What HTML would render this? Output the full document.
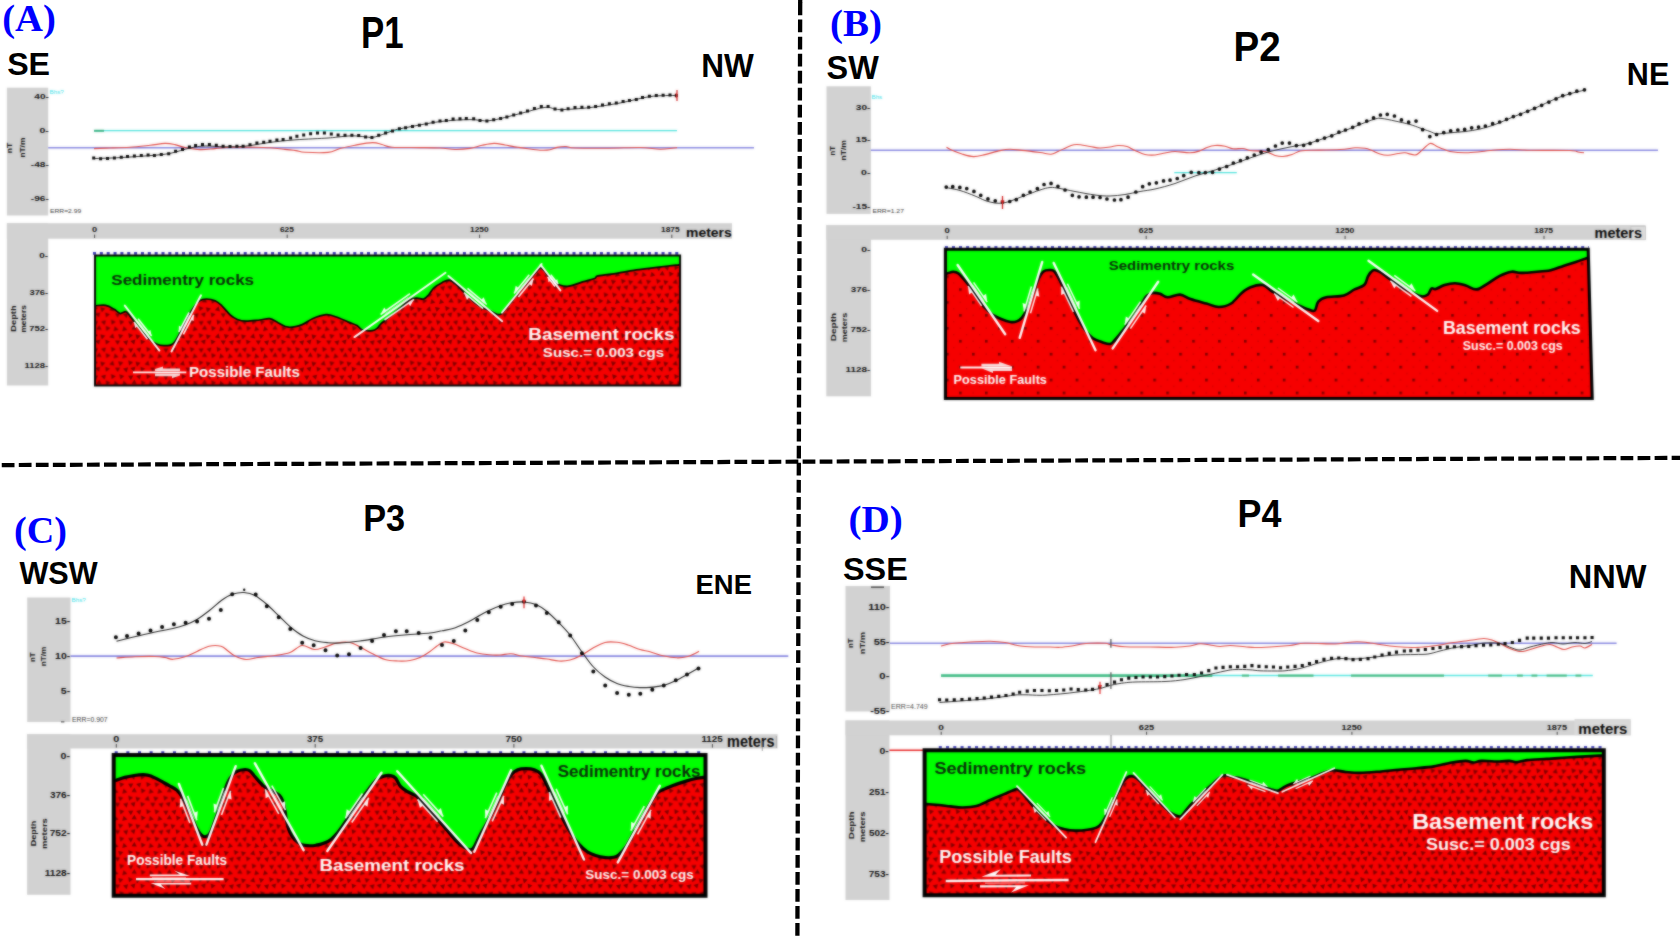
<!DOCTYPE html>
<html lang="en"><head><meta charset="utf-8"><title>Magnetic profiles P1-P4</title>
<style>
html,body{margin:0;padding:0;background:#fff;}
body{width:1680px;height:936px;overflow:hidden;position:relative;font-family:"Liberation Sans",sans-serif;}
svg text{white-space:pre;}
</style></head><body>
<svg width="1680" height="936" viewBox="0 0 1680 936" style="position:absolute;left:0;top:0;display:block">
<defs><pattern id="tri" width="35.20" height="27.20" patternUnits="userSpaceOnUse">
<rect width="35.20" height="27.20" fill="#f60000"/>
<g fill="#7c0000">
<polygon points="0.19,-0.54 4.93,1.61 0.71,4.64"/>
<polygon points="0.19,26.66 4.93,28.81 0.71,31.84"/>
<polygon points="35.39,-0.54 40.13,1.61 35.91,4.64"/>
<polygon points="35.39,26.66 40.13,28.81 35.91,31.84"/>
<polygon points="8.09,4.91 9.14,-0.18 13.03,3.28"/>
<polygon points="8.09,32.11 9.14,27.02 13.03,30.48"/>
<polygon points="21.77,3.32 16.79,4.79 18.00,-0.26"/>
<polygon points="21.77,30.52 16.79,31.99 18.00,26.94"/>
<polygon points="31.15,3.36 25.96,3.12 28.77,-1.26"/>
<polygon points="31.15,30.56 25.96,30.32 28.77,25.94"/>
<polygon points="8.74,12.16 3.71,10.85 7.36,7.15"/>
<polygon points="17.72,8.69 14.30,12.60 12.62,7.68"/>
<polygon points="27.57,8.75 23.50,11.99 22.73,6.85"/>
<polygon points="31.28,13.02 29.87,8.02 34.91,9.30"/>
<polygon points="0.40,18.24 -0.41,13.10 4.44,14.97"/>
<polygon points="35.60,18.24 34.79,13.10 39.64,14.97"/>
<polygon points="9.41,14.09 14.60,14.03 12.05,18.56"/>
<polygon points="17.50,15.06 22.56,13.91 21.03,18.87"/>
<polygon points="28.48,18.21 24.75,14.59 29.75,13.17"/>
<polygon points="6.09,25.61 5.47,20.46 10.25,22.49"/>
<polygon points="14.90,25.76 13.81,20.68 18.76,22.28"/>
<polygon points="25.28,26.40 22.51,22.00 27.71,21.80"/>
<polygon points="0.32,20.93 -1.03,25.95 -4.70,22.27"/>
<polygon points="35.52,20.93 34.17,25.95 30.50,22.27"/>
</g></pattern>

<pattern id="dots" width="25.9" height="25.84" patternUnits="userSpaceOnUse" patternTransform="translate(1166.3,314.1)">
  <rect width="25.9" height="25.84" fill="#f60000"/>
  <g fill="#7a0000">
  <rect x="0" y="0" width="2.6" height="2.6"/>
  <rect x="12.95" y="12.92" width="2.6" height="2.6"/>
  </g>
  <g fill="#d00000">
  <rect x="13.4" y="0.6" width="1.4" height="1.4"/>
  <rect x="0.5" y="13.4" width="1.4" height="1.4"/>
  <rect x="6.9" y="7" width="1.3" height="1.3"/>
  <rect x="19.9" y="19.9" width="1.3" height="1.3"/>
  <rect x="19.9" y="7" width="1.3" height="1.3"/>
  <rect x="6.9" y="19.9" width="1.3" height="1.3"/>
  </g>
</pattern>

<filter id="blurFig" x="0" y="0" width="1680" height="936" filterUnits="userSpaceOnUse" color-interpolation-filters="sRGB"><feGaussianBlur stdDeviation="0.9"/></filter>
<clipPath id="clip3"><polygon points="95.0,255.4 680.1,255.4 680.1,385.6 95.0,385.6"/></clipPath>
<clipPath id="clip4"><polygon points="945.4,249.3 1588.2,249.3 1592.2,398.5 945.4,398.5"/></clipPath>
<clipPath id="clip5"><polygon points="113.7,755.1 705.5,755.1 705.5,895.7 113.7,895.7"/></clipPath>
<clipPath id="clip6"><polygon points="924.6,750.3 1603.8,750.3 1603.8,895.3 924.6,895.3"/></clipPath></defs>
<g id="fig">
<rect x="0" y="0" width="1680" height="936" fill="#fff"/>
<rect x="6.9" y="87.7" width="41.3" height="127.8" fill="#d2d2d2"/>
<rect x="6.9" y="223.2" width="41.3" height="162.3" fill="#d2d2d2"/>
<rect x="6.9" y="223.2" width="725.1" height="15.5" fill="#d2d2d2"/>
<text transform="translate(34.34,98.60) scale(1.3518,1)" font-family='"Liberation Sans", sans-serif' font-weight="bold" font-size="7.43" fill="#0c0c0c" >40-</text>
<text transform="translate(39.39,132.90) scale(1.4271,1)" font-family='"Liberation Sans", sans-serif' font-weight="bold" font-size="7.43" fill="#0c0c0c" >0-</text>
<text transform="translate(30.82,166.60) scale(1.3600,1)" font-family='"Liberation Sans", sans-serif' font-weight="bold" font-size="7.43" fill="#0c0c0c" >-48-</text>
<text transform="translate(30.82,201.00) scale(1.3600,1)" font-family='"Liberation Sans", sans-serif' font-weight="bold" font-size="7.43" fill="#0c0c0c" >-96-</text>
<text transform="translate(12.40,153.30) rotate(-90) scale(1.3481,1)" font-family='"Liberation Sans", sans-serif' font-weight="bold" font-size="6.38" fill="#0c0c0c">nT</text>
<text transform="translate(25.20,157.59) rotate(-90) scale(1.3114,1)" font-family='"Liberation Sans", sans-serif' font-weight="bold" font-size="6.38" fill="#0c0c0c">nT/m</text>
<text transform="translate(49.96,213.00) scale(1.0828,1)" font-family='"Liberation Sans", sans-serif' font-weight="normal" font-size="6.23" fill="#333" >ERR=2.99</text>
<text transform="translate(49.50,94.00) scale(1.0781,1)" font-family='"Liberation Sans", sans-serif' font-weight="normal" font-size="5.80" fill="#40e0e8" >Bhs?</text>
<line x1="94" y1="130.6" x2="677" y2="130.6" stroke="#48e2dc" stroke-width="1.35"/>
<line x1="94" y1="130.8" x2="104" y2="130.8" stroke="#2fb080" stroke-width="2.0"/>
<line x1="48.2" y1="147.7" x2="754" y2="147.7" stroke="#8585e0" stroke-width="1.6"/>
<path d="M94.0,148.6 C96.7,148.5 104.0,148.2 110.0,148.0 C116.0,147.8 123.3,147.6 130.0,147.2 C136.7,146.8 144.2,145.9 150.0,145.3 C155.8,144.7 160.8,143.5 165.0,143.4 C169.2,143.3 171.7,143.9 175.0,144.6 C178.3,145.3 180.8,146.7 185.0,147.5 C189.2,148.3 195.0,149.4 200.0,149.6 C205.0,149.8 210.0,149.0 215.0,148.6 C220.0,148.2 224.2,147.4 230.0,147.2 C235.8,147.0 243.3,147.1 250.0,147.2 C256.7,147.3 264.2,147.4 270.0,147.8 C275.8,148.2 280.7,148.9 285.0,149.4 C289.3,149.9 292.7,150.1 296.0,150.6 C299.3,151.1 299.7,152.0 305.0,152.3 C310.3,152.6 322.2,153.0 328.0,152.4 C333.8,151.8 335.5,149.7 340.0,148.5 C344.5,147.3 349.6,146.2 355.0,145.2 C360.4,144.2 368.0,142.7 372.5,142.6 C377.0,142.5 378.8,143.7 382.0,144.5 C385.2,145.3 385.7,146.7 392.0,147.2 C398.3,147.7 412.0,147.5 420.0,147.6 C428.0,147.7 434.2,147.7 440.0,148.0 C445.8,148.3 450.0,149.4 455.0,149.5 C460.0,149.6 465.5,149.1 470.0,148.4 C474.5,147.7 478.0,146.1 482.0,145.3 C486.0,144.5 490.2,143.5 494.0,143.4 C497.8,143.3 501.0,144.3 505.0,145.0 C509.0,145.7 514.2,146.7 518.0,147.3 C521.8,147.9 524.3,148.3 528.0,148.8 C531.7,149.3 536.3,150.0 540.0,150.2 C543.7,150.4 547.2,150.3 550.0,149.8 C552.8,149.3 554.3,148.0 557.0,147.4 C559.7,146.8 563.0,146.4 566.0,146.5 C569.0,146.6 567.7,147.7 575.0,148.0 C582.3,148.3 599.2,148.3 610.0,148.2 C620.8,148.1 631.7,147.3 640.0,147.5 C648.3,147.7 654.7,149.1 660.0,149.2 C665.3,149.3 669.2,148.6 672.0,148.3 C674.8,148.0 676.2,147.7 677.0,147.6" fill="none" stroke="#e0443e" stroke-width="1.1" stroke-linejoin="round"/>
<path d="M94.0,158.6 C98.3,158.4 110.7,158.1 120.0,157.6 C129.3,157.1 141.7,156.3 150.0,155.6 C158.3,154.9 163.3,154.7 170.0,153.4 C176.7,152.1 184.2,149.2 190.0,148.0 C195.8,146.8 199.2,146.2 205.0,146.0 C210.8,145.8 218.3,146.8 225.0,146.8 C231.7,146.8 237.5,146.9 245.0,146.2 C252.5,145.5 261.5,143.5 270.0,142.4 C278.5,141.3 286.3,140.5 296.0,139.8 C305.7,139.1 320.7,138.5 328.0,138.0 C335.3,137.5 336.0,137.2 340.0,136.8 C344.0,136.4 347.8,135.8 352.0,135.8 C356.2,135.8 361.7,136.5 365.0,136.8 C368.3,137.1 369.5,137.6 372.0,137.4 C374.5,137.2 376.7,136.5 380.0,135.4 C383.3,134.3 388.7,132.1 392.0,131.0 C395.3,129.9 392.0,130.4 400.0,128.8 C408.0,127.2 428.3,123.1 440.0,121.6 C451.7,120.1 461.7,119.8 470.0,119.6 C478.3,119.4 481.7,121.6 490.0,120.6 C498.3,119.6 510.8,115.8 520.0,113.6 C529.2,111.4 538.3,108.1 545.0,107.4 C551.7,106.7 552.5,109.6 560.0,109.6 C567.5,109.6 580.0,108.7 590.0,107.6 C600.0,106.5 610.0,104.8 620.0,103.0 C630.0,101.2 640.5,97.9 650.0,96.6 C659.5,95.3 672.5,95.6 677.0,95.4" fill="none" stroke="#1c1c1c" stroke-width="0.95" stroke-linejoin="round"/>
<path d="M92.2,156.6h3.0v3.0h-3.0zM99.1,157.2h3.0v3.0h-3.0zM106.0,157.0h3.0v3.0h-3.0zM112.9,156.4h3.0v3.0h-3.0zM119.8,155.8h3.0v3.0h-3.0zM126.0,155.0h3.0v3.0h-3.0zM132.9,154.5h3.0v3.0h-3.0zM139.8,153.9h3.0v3.0h-3.0zM146.6,153.5h3.0v3.0h-3.0zM152.9,154.1h3.0v3.0h-3.0zM159.8,152.9h3.0v3.0h-3.0zM167.2,152.2h3.0v3.0h-3.0zM174.1,149.8h3.0v3.0h-3.0zM181.0,147.9h3.0v3.0h-3.0zM187.9,145.6h3.0v3.0h-3.0zM194.1,143.9h3.0v3.0h-3.0zM201.0,142.9h3.0v3.0h-3.0zM207.9,142.9h3.0v3.0h-3.0zM214.8,143.8h3.0v3.0h-3.0zM221.6,144.8h3.0v3.0h-3.0zM228.5,145.0h3.0v3.0h-3.0zM235.4,144.8h3.0v3.0h-3.0zM241.6,144.8h3.0v3.0h-3.0zM248.5,143.2h3.0v3.0h-3.0zM255.4,141.6h3.0v3.0h-3.0zM262.2,140.8h3.0v3.0h-3.0zM268.5,139.8h3.0v3.0h-3.0zM275.4,138.5h3.0v3.0h-3.0zM281.6,137.9h3.0v3.0h-3.0zM289.1,136.6h3.0v3.0h-3.0zM295.4,134.8h3.0v3.0h-3.0zM302.2,133.5h3.0v3.0h-3.0zM309.1,132.2h3.0v3.0h-3.0zM316.0,131.6h3.0v3.0h-3.0zM322.9,131.6h3.0v3.0h-3.0zM329.8,132.5h3.0v3.0h-3.0zM336.6,133.5h3.0v3.0h-3.0zM343.5,133.8h3.0v3.0h-3.0zM350.4,133.8h3.0v3.0h-3.0zM357.2,134.1h3.0v3.0h-3.0zM364.1,135.4h3.0v3.0h-3.0zM370.4,136.0h3.0v3.0h-3.0zM377.2,133.8h3.0v3.0h-3.0zM384.1,131.6h3.0v3.0h-3.0zM391.0,129.4h3.0v3.0h-3.0zM397.9,127.2h3.0v3.0h-3.0zM404.1,126.2h3.0v3.0h-3.0zM411.0,125.1h3.0v3.0h-3.0zM417.9,123.8h3.0v3.0h-3.0zM424.8,122.5h3.0v3.0h-3.0zM431.6,120.8h3.0v3.0h-3.0zM438.5,119.5h3.0v3.0h-3.0zM444.8,118.9h3.0v3.0h-3.0zM451.6,117.5h3.0v3.0h-3.0zM458.5,117.2h3.0v3.0h-3.0zM464.8,116.9h3.0v3.0h-3.0zM472.2,117.2h3.0v3.0h-3.0zM478.5,119.1h3.0v3.0h-3.0zM485.4,119.5h3.0v3.0h-3.0zM492.2,118.2h3.0v3.0h-3.0zM499.1,117.0h3.0v3.0h-3.0zM505.4,115.4h3.0v3.0h-3.0zM512.2,113.5h3.0v3.0h-3.0zM519.1,111.6h3.0v3.0h-3.0zM526.0,109.4h3.0v3.0h-3.0zM532.9,107.0h3.0v3.0h-3.0zM539.8,105.0h3.0v3.0h-3.0zM546.6,105.0h3.0v3.0h-3.0zM553.5,107.5h3.0v3.0h-3.0zM560.4,108.5h3.0v3.0h-3.0zM566.6,107.2h3.0v3.0h-3.0zM573.5,106.0h3.0v3.0h-3.0zM580.4,105.8h3.0v3.0h-3.0zM587.2,105.8h3.0v3.0h-3.0zM594.1,105.0h3.0v3.0h-3.0zM601.0,103.5h3.0v3.0h-3.0zM607.9,102.2h3.0v3.0h-3.0zM614.8,101.6h3.0v3.0h-3.0zM621.6,100.1h3.0v3.0h-3.0zM627.9,99.1h3.0v3.0h-3.0zM634.8,97.9h3.0v3.0h-3.0zM641.0,96.0h3.0v3.0h-3.0zM647.9,94.8h3.0v3.0h-3.0zM654.8,94.1h3.0v3.0h-3.0zM661.6,93.8h3.0v3.0h-3.0zM668.5,93.5h3.0v3.0h-3.0zM674.8,94.1h3.0v3.0h-3.0z" fill="#000"/>
<path d="M677,90 L677,101 M675.6,93.5 L677,95.5 L675.6,97.5" stroke="#d01818" stroke-width="1.2" fill="none"/>
<text transform="translate(91.99,231.65) scale(1.3325,1)" font-family='"Liberation Sans", sans-serif' font-weight="bold" font-size="7.00" fill="#0c0c0c" >0</text>
<text transform="translate(279.95,231.65) scale(1.1992,1)" font-family='"Liberation Sans", sans-serif' font-weight="bold" font-size="7.00" fill="#0c0c0c" >625</text>
<text transform="translate(470.04,231.65) scale(1.2011,1)" font-family='"Liberation Sans", sans-serif' font-weight="bold" font-size="7.00" fill="#0c0c0c" >1250</text>
<text transform="translate(661.04,231.65) scale(1.1955,1)" font-family='"Liberation Sans", sans-serif' font-weight="bold" font-size="7.00" fill="#0c0c0c" >1875</text>
<line x1="94.6" y1="234.6" x2="94.6" y2="238" stroke="#333" stroke-width="0.9"/>
<line x1="287.2" y1="234.6" x2="287.2" y2="238" stroke="#333" stroke-width="0.9"/>
<line x1="479.6" y1="234.6" x2="479.6" y2="238" stroke="#333" stroke-width="0.9"/>
<line x1="671.8" y1="234.6" x2="671.8" y2="238" stroke="#333" stroke-width="0.9"/>
<text transform="translate(686.02,237.20) scale(1.0538,1)" font-family='"Liberation Sans", sans-serif' font-weight="bold" font-size="13.23" fill="#000" >meters</text>
<text transform="translate(39.34,257.90) scale(1.3393,1)" font-family='"Liberation Sans", sans-serif' font-weight="bold" font-size="7.43" fill="#0c0c0c" >0-</text>
<text transform="translate(29.47,295.10) scale(1.2587,1)" font-family='"Liberation Sans", sans-serif' font-weight="bold" font-size="7.43" fill="#0c0c0c" >376-</text>
<text transform="translate(29.28,331.40) scale(1.2718,1)" font-family='"Liberation Sans", sans-serif' font-weight="bold" font-size="7.43" fill="#0c0c0c" >752-</text>
<text transform="translate(24.55,367.60) scale(1.2721,1)" font-family='"Liberation Sans", sans-serif' font-weight="bold" font-size="7.43" fill="#0c0c0c" >1128-</text>
<text transform="translate(15.60,331.65) rotate(-90) scale(1.3039,1)" font-family='"Liberation Sans", sans-serif' font-weight="bold" font-size="7.10" fill="#0c0c0c">Depth</text>
<text transform="translate(25.80,332.59) rotate(-90) scale(1.1772,1)" font-family='"Liberation Sans", sans-serif' font-weight="bold" font-size="7.10" fill="#0c0c0c">meters</text>
<line x1="93.00" y1="253.4" x2="680.5" y2="253.4" stroke="#3434b4" stroke-width="2.6" stroke-dasharray="3.0 3.850"/>
<g clip-path="url(#clip3)">
<polygon points="95.0,255.4 680.1,255.4 680.1,385.6 95.0,385.6" fill="#00ff00"/>
<path d="M90.0,305.9 C90.8,305.9 91.9,305.9 94.5,305.8 C97.1,305.7 102.3,304.7 105.6,305.3 C108.9,305.9 111.8,307.9 114.2,309.3 C116.6,310.7 118.2,313.1 120.2,313.5 C122.2,313.9 124.3,311.1 126.2,311.8 C128.1,312.5 129.0,315.0 131.3,317.8 C133.6,320.6 137.1,325.5 139.9,328.9 C142.8,332.3 145.6,335.7 148.4,338.3 C151.2,340.9 154.4,343.1 157.0,344.3 C159.6,345.5 161.2,345.7 163.8,345.7 C166.4,345.7 169.9,345.9 172.3,344.3 C174.7,342.7 176.0,339.8 178.3,335.8 C180.6,331.8 183.6,325.0 186.0,320.4 C188.4,315.8 190.6,311.7 192.9,308.4 C195.2,305.1 197.4,302.3 199.7,300.7 C202.0,299.1 203.9,299.0 206.5,299.0 C209.1,299.0 212.5,299.6 215.1,300.7 C217.7,301.8 219.3,303.4 221.9,305.8 C224.5,308.2 227.9,312.9 230.5,315.2 C233.1,317.5 234.7,318.5 237.3,319.5 C239.9,320.5 242.2,321.1 245.9,321.2 C249.6,321.3 255.6,320.4 259.6,320.0 C263.6,319.6 266.7,318.2 269.8,318.7 C272.9,319.2 275.3,321.5 278.4,322.9 C281.5,324.3 284.5,326.9 288.5,327.2 C292.5,327.5 298.2,326.0 302.2,324.6 C306.2,323.2 308.5,320.4 312.5,318.7 C316.5,317.0 322.2,315.0 326.2,314.7 C330.2,314.4 332.7,315.8 336.4,317.0 C340.1,318.2 345.0,320.7 348.4,322.1 C351.8,323.5 354.7,324.2 357.0,325.5 C359.3,326.8 359.4,328.9 362.0,329.8 C364.6,330.7 369.7,330.9 372.3,330.6 C374.9,330.3 376.1,329.1 377.5,328.0 C378.9,326.9 378.9,325.6 380.9,323.8 C382.9,322.0 386.3,319.6 389.4,317.0 C392.5,314.4 396.3,311.3 399.7,308.4 C403.1,305.5 407.1,301.5 410.0,299.8 C412.9,298.1 414.5,298.2 416.8,298.1 C419.1,298.0 421.6,299.6 423.6,299.0 C425.6,298.4 427.1,296.6 428.8,294.7 C430.5,292.8 431.6,289.9 433.9,287.9 C436.2,285.8 439.8,283.7 442.4,282.4 C445.0,281.1 447.0,279.8 449.3,280.2 C451.6,280.6 453.5,282.4 456.1,284.5 C458.7,286.6 461.9,290.1 464.7,293.0 C467.5,295.9 470.3,299.2 473.2,301.6 C476.1,304.0 479.2,306.1 481.8,307.5 C484.4,308.9 485.9,309.0 488.5,310.1 C491.1,311.2 495.0,313.8 497.1,314.4 C499.2,315.0 499.7,315.2 501.4,313.9 C503.1,312.6 504.7,310.0 507.4,306.7 C510.1,303.4 514.2,298.0 517.6,293.9 C521.0,289.8 524.8,285.6 527.9,281.9 C531.0,278.2 534.3,273.9 536.4,271.6 C538.5,269.3 539.3,268.2 540.7,268.2 C542.1,268.2 543.1,269.6 545.0,271.6 C546.9,273.6 549.2,277.9 551.8,280.2 C554.4,282.5 557.5,284.3 560.4,285.3 C563.2,286.3 565.2,286.8 568.9,286.2 C572.6,285.6 578.3,283.2 582.6,281.9 C586.9,280.6 592.0,279.5 594.6,278.5 C597.2,277.5 594.3,276.8 598.0,275.9 C601.7,275.0 610.8,274.2 616.8,273.3 C622.8,272.4 628.2,271.2 633.9,270.4 C639.6,269.5 645.3,268.9 651.0,268.2 C656.7,267.5 663.4,266.6 668.1,266.0 C672.8,265.4 676.6,265.1 679.2,264.8 C681.9,264.5 683.2,264.5 684.0,264.4 L704.0,264.4 L700.1,405.6 L75.0,405.6 L70.0,305.9 Z" fill="url(#tri)"/>
<path d="M90.0,305.9 C90.8,305.9 91.9,305.9 94.5,305.8 C97.1,305.7 102.3,304.7 105.6,305.3 C108.9,305.9 111.8,307.9 114.2,309.3 C116.6,310.7 118.2,313.1 120.2,313.5 C122.2,313.9 124.3,311.1 126.2,311.8 C128.1,312.5 129.0,315.0 131.3,317.8 C133.6,320.6 137.1,325.5 139.9,328.9 C142.8,332.3 145.6,335.7 148.4,338.3 C151.2,340.9 154.4,343.1 157.0,344.3 C159.6,345.5 161.2,345.7 163.8,345.7 C166.4,345.7 169.9,345.9 172.3,344.3 C174.7,342.7 176.0,339.8 178.3,335.8 C180.6,331.8 183.6,325.0 186.0,320.4 C188.4,315.8 190.6,311.7 192.9,308.4 C195.2,305.1 197.4,302.3 199.7,300.7 C202.0,299.1 203.9,299.0 206.5,299.0 C209.1,299.0 212.5,299.6 215.1,300.7 C217.7,301.8 219.3,303.4 221.9,305.8 C224.5,308.2 227.9,312.9 230.5,315.2 C233.1,317.5 234.7,318.5 237.3,319.5 C239.9,320.5 242.2,321.1 245.9,321.2 C249.6,321.3 255.6,320.4 259.6,320.0 C263.6,319.6 266.7,318.2 269.8,318.7 C272.9,319.2 275.3,321.5 278.4,322.9 C281.5,324.3 284.5,326.9 288.5,327.2 C292.5,327.5 298.2,326.0 302.2,324.6 C306.2,323.2 308.5,320.4 312.5,318.7 C316.5,317.0 322.2,315.0 326.2,314.7 C330.2,314.4 332.7,315.8 336.4,317.0 C340.1,318.2 345.0,320.7 348.4,322.1 C351.8,323.5 354.7,324.2 357.0,325.5 C359.3,326.8 359.4,328.9 362.0,329.8 C364.6,330.7 369.7,330.9 372.3,330.6 C374.9,330.3 376.1,329.1 377.5,328.0 C378.9,326.9 378.9,325.6 380.9,323.8 C382.9,322.0 386.3,319.6 389.4,317.0 C392.5,314.4 396.3,311.3 399.7,308.4 C403.1,305.5 407.1,301.5 410.0,299.8 C412.9,298.1 414.5,298.2 416.8,298.1 C419.1,298.0 421.6,299.6 423.6,299.0 C425.6,298.4 427.1,296.6 428.8,294.7 C430.5,292.8 431.6,289.9 433.9,287.9 C436.2,285.8 439.8,283.7 442.4,282.4 C445.0,281.1 447.0,279.8 449.3,280.2 C451.6,280.6 453.5,282.4 456.1,284.5 C458.7,286.6 461.9,290.1 464.7,293.0 C467.5,295.9 470.3,299.2 473.2,301.6 C476.1,304.0 479.2,306.1 481.8,307.5 C484.4,308.9 485.9,309.0 488.5,310.1 C491.1,311.2 495.0,313.8 497.1,314.4 C499.2,315.0 499.7,315.2 501.4,313.9 C503.1,312.6 504.7,310.0 507.4,306.7 C510.1,303.4 514.2,298.0 517.6,293.9 C521.0,289.8 524.8,285.6 527.9,281.9 C531.0,278.2 534.3,273.9 536.4,271.6 C538.5,269.3 539.3,268.2 540.7,268.2 C542.1,268.2 543.1,269.6 545.0,271.6 C546.9,273.6 549.2,277.9 551.8,280.2 C554.4,282.5 557.5,284.3 560.4,285.3 C563.2,286.3 565.2,286.8 568.9,286.2 C572.6,285.6 578.3,283.2 582.6,281.9 C586.9,280.6 592.0,279.5 594.6,278.5 C597.2,277.5 594.3,276.8 598.0,275.9 C601.7,275.0 610.8,274.2 616.8,273.3 C622.8,272.4 628.2,271.2 633.9,270.4 C639.6,269.5 645.3,268.9 651.0,268.2 C656.7,267.5 663.4,266.6 668.1,266.0 C672.8,265.4 676.6,265.1 679.2,264.8 C681.9,264.5 683.2,264.5 684.0,264.4" fill="none" stroke="#000" stroke-width="1.7" stroke-linejoin="round"/>
</g>
<polygon points="95.0,255.4 680.1,255.4 680.1,385.6 95.0,385.6" fill="none" stroke="#000" stroke-width="2.0" stroke-linejoin="miter"/>
<line x1="124.8" y1="305.6" x2="159.4" y2="350.6" stroke="#fff" stroke-width="1.9" stroke-linecap="round"/>
<line x1="201.0" y1="295.3" x2="171.5" y2="351.5" stroke="#fff" stroke-width="1.9" stroke-linecap="round"/>
<line x1="354.4" y1="337.1" x2="445.5" y2="272.8" stroke="#fff" stroke-width="1.9" stroke-linecap="round"/>
<line x1="448.4" y1="275.9" x2="502.2" y2="321.2" stroke="#fff" stroke-width="1.9" stroke-linecap="round"/>
<line x1="502.0" y1="312.7" x2="541.6" y2="264.0" stroke="#fff" stroke-width="1.9" stroke-linecap="round"/>
<line x1="540.7" y1="264.8" x2="560.4" y2="290.4" stroke="#fff" stroke-width="1.9" stroke-linecap="round"/>
<g opacity="0.96"><line x1="138.1" y1="318.7" x2="151.6" y2="336.1" stroke="#fff" stroke-width="1.6"/><polygon points="151.6,336.1 150.4,330.1 148.2,331.8" fill="#fff"/></g>
<line x1="138.4" y1="321.3" x2="149.1" y2="335.3" stroke="#fff" stroke-width="0.8" opacity="0.6"/>
<g opacity="0.96"><line x1="147.4" y1="339.3" x2="134.0" y2="321.9" stroke="#fff" stroke-width="1.6"/><polygon points="134.0,321.9 135.2,327.9 137.4,326.2" fill="#fff"/></g>
<g opacity="0.96"><line x1="189.1" y1="312.5" x2="178.8" y2="331.9" stroke="#fff" stroke-width="1.6"/><polygon points="178.8,331.9 178.9,325.8 181.4,327.1" fill="#fff"/></g>
<line x1="189.3" y1="315.1" x2="181.1" y2="330.6" stroke="#fff" stroke-width="0.8" opacity="0.6"/>
<g opacity="0.96"><line x1="183.4" y1="334.3" x2="193.7" y2="314.9" stroke="#fff" stroke-width="1.6"/><polygon points="193.7,314.9 193.6,321.0 191.1,319.7" fill="#fff"/></g>
<g opacity="0.96"><line x1="410.0" y1="293.7" x2="380.6" y2="314.5" stroke="#fff" stroke-width="1.6"/><polygon points="380.6,314.5 384.2,307.5 386.3,310.4" fill="#fff"/></g>
<line x1="408.1" y1="297.3" x2="384.6" y2="313.9" stroke="#fff" stroke-width="0.8" opacity="0.6"/>
<g opacity="0.96"><line x1="384.5" y1="320.0" x2="413.9" y2="299.3" stroke="#fff" stroke-width="1.6"/><polygon points="413.9,299.3 410.2,306.3 408.2,303.3" fill="#fff"/></g>
<g opacity="0.96"><line x1="467.5" y1="288.4" x2="486.7" y2="304.5" stroke="#fff" stroke-width="1.6"/><polygon points="486.7,304.5 483.6,297.2 481.3,300.0" fill="#fff"/></g>
<line x1="468.5" y1="291.1" x2="483.8" y2="304.0" stroke="#fff" stroke-width="0.8" opacity="0.6"/>
<g opacity="0.96"><line x1="483.1" y1="308.7" x2="463.9" y2="292.6" stroke="#fff" stroke-width="1.6"/><polygon points="463.9,292.6 467.0,299.9 469.3,297.1" fill="#fff"/></g>
<g opacity="0.96"><line x1="529.2" y1="274.8" x2="514.0" y2="293.5" stroke="#fff" stroke-width="1.6"/><polygon points="514.0,293.5 515.7,285.8 518.5,288.0" fill="#fff"/></g>
<line x1="528.9" y1="277.7" x2="516.7" y2="292.6" stroke="#fff" stroke-width="0.8" opacity="0.6"/>
<g opacity="0.96"><line x1="518.4" y1="297.0" x2="533.5" y2="278.4" stroke="#fff" stroke-width="1.6"/><polygon points="533.5,278.4 531.9,286.1 529.1,283.8" fill="#fff"/></g>
<g opacity="0.96"><line x1="550.8" y1="274.7" x2="558.2" y2="284.2" stroke="#fff" stroke-width="1.6"/><polygon points="558.2,284.2 557.3,279.2 555.4,280.6" fill="#fff"/></g>
<line x1="550.7" y1="276.3" x2="556.6" y2="283.9" stroke="#fff" stroke-width="0.8" opacity="0.6"/>
<g opacity="0.96"><line x1="555.0" y1="286.6" x2="547.7" y2="277.1" stroke="#fff" stroke-width="1.6"/><polygon points="547.7,277.1 548.5,282.2 550.4,280.7" fill="#fff"/></g>
<text transform="translate(111.29,285.00) scale(1.1404,1)" font-family='"Liberation Sans", sans-serif' font-weight="bold" font-size="14.93" fill="#0a2a0a" >Sedimentry rocks</text>
<text transform="translate(528.27,340.00) scale(1.0896,1)" font-family='"Liberation Sans", sans-serif' font-weight="bold" font-size="17.39" fill="#fff" >Basement rocks</text>
<text transform="translate(542.85,357.10) scale(1.1098,1)" font-family='"Liberation Sans", sans-serif' font-weight="bold" font-size="13.62" fill="#fff" >Susc.= 0.003 cgs</text>
<text transform="translate(188.94,376.90) scale(1.0654,1)" font-family='"Liberation Sans", sans-serif' font-weight="bold" font-size="14.20" fill="#fff" >Possible Faults</text>
<line x1="133" y1="372.3" x2="186.3" y2="372.3" stroke="#fff" stroke-width="1.8"/>
<path d="M155,369 L163,366.6 L163,368.6 L180,368.6 L180,371 L155,371 Z" fill="#f6d8d8"/>
<path d="M180,375.6 L172,378.2 L172,376.2 L155,376.2 L155,373.6 L180,373.6 Z" fill="#f6d8d8"/>
<rect x="826.5" y="86.3" width="44.4" height="127.6" fill="#d2d2d2"/>
<rect x="826.3" y="225" width="44.7" height="171.3" fill="#d2d2d2"/>
<rect x="826.3" y="225" width="819.3" height="14.8" fill="#d2d2d2"/>
<text transform="translate(855.84,110.00) scale(1.3616,1)" font-family='"Liberation Sans", sans-serif' font-weight="bold" font-size="7.43" fill="#0c0c0c" >30-</text>
<text transform="translate(855.42,142.40) scale(1.4022,1)" font-family='"Liberation Sans", sans-serif' font-weight="bold" font-size="7.43" fill="#0c0c0c" >15-</text>
<text transform="translate(860.99,175.20) scale(1.4271,1)" font-family='"Liberation Sans", sans-serif' font-weight="bold" font-size="7.43" fill="#0c0c0c" >0-</text>
<text transform="translate(852.42,208.50) scale(1.3600,1)" font-family='"Liberation Sans", sans-serif' font-weight="bold" font-size="7.43" fill="#0c0c0c" >-15-</text>
<text transform="translate(834.60,155.53) rotate(-90) scale(1.1447,1)" font-family='"Liberation Sans", sans-serif' font-weight="bold" font-size="6.67" fill="#0c0c0c">nT</text>
<text transform="translate(846.20,160.60) rotate(-90) scale(1.2942,1)" font-family='"Liberation Sans", sans-serif' font-weight="bold" font-size="6.67" fill="#0c0c0c">nT/m</text>
<text transform="translate(872.46,212.70) scale(1.0899,1)" font-family='"Liberation Sans", sans-serif' font-weight="normal" font-size="6.23" fill="#333" >ERR=1.27</text>
<text transform="translate(871.50,99.30) scale(1.1349,1)" font-family='"Liberation Sans", sans-serif' font-weight="normal" font-size="5.51" fill="#40e0e8" >Bhs</text>
<line x1="870.8" y1="150.3" x2="1658" y2="150.3" stroke="#8585e0" stroke-width="1.55"/>
<line x1="1174.3" y1="172.6" x2="1236.8" y2="172.6" stroke="#48e2dc" stroke-width="1.4"/>
<path d="M946.5,147.3 C947.4,147.8 949.4,149.2 952.0,150.3 C954.6,151.4 958.4,152.9 962.0,154.0 C965.6,155.1 969.7,156.5 973.5,156.6 C977.3,156.7 980.6,155.6 985.0,154.6 C989.4,153.6 995.8,151.5 1000.0,150.6 C1004.2,149.7 1006.3,149.3 1010.0,149.3 C1013.7,149.3 1017.0,149.9 1022.0,150.4 C1027.0,150.9 1035.2,151.9 1040.0,152.5 C1044.8,153.1 1048.0,154.4 1051.0,154.2 C1054.0,154.0 1054.8,152.9 1058.0,151.5 C1061.2,150.1 1066.8,147.2 1070.0,146.0 C1073.2,144.8 1073.7,144.4 1077.0,144.5 C1080.3,144.6 1086.2,145.9 1090.0,146.5 C1093.8,147.1 1096.7,147.9 1100.0,148.0 C1103.3,148.1 1107.0,147.4 1110.0,147.0 C1113.0,146.6 1115.2,145.6 1118.0,145.5 C1120.8,145.4 1124.2,145.7 1127.0,146.5 C1129.8,147.3 1132.0,149.2 1135.0,150.5 C1138.0,151.8 1141.7,153.8 1145.0,154.5 C1148.3,155.2 1151.7,155.2 1155.0,155.0 C1158.3,154.8 1161.7,153.6 1165.0,153.0 C1168.3,152.4 1170.8,151.5 1175.0,151.5 C1179.2,151.5 1185.8,152.9 1190.0,152.8 C1194.2,152.7 1197.2,151.7 1200.0,150.8 C1202.8,149.9 1204.5,148.4 1207.0,147.5 C1209.5,146.6 1212.0,145.7 1215.0,145.5 C1218.0,145.3 1222.0,145.6 1225.0,146.2 C1228.0,146.8 1230.0,148.4 1233.0,148.8 C1236.0,149.2 1240.2,148.2 1243.0,148.5 C1245.8,148.8 1246.3,150.0 1250.0,150.5 C1253.7,151.0 1260.8,150.7 1265.0,151.5 C1269.2,152.3 1272.0,154.7 1275.0,155.5 C1278.0,156.3 1280.2,156.7 1283.0,156.5 C1285.8,156.3 1289.2,155.4 1292.0,154.5 C1294.8,153.6 1297.0,151.7 1300.0,151.0 C1303.0,150.3 1303.3,150.6 1310.0,150.3 C1316.7,150.1 1332.5,149.9 1340.0,149.5 C1347.5,149.1 1350.8,148.0 1355.0,147.8 C1359.2,147.6 1362.2,147.8 1365.0,148.2 C1367.8,148.6 1369.5,149.5 1372.0,150.5 C1374.5,151.5 1377.3,153.2 1380.0,154.0 C1382.7,154.8 1385.0,155.3 1388.0,155.2 C1391.0,155.1 1395.2,153.9 1398.0,153.5 C1400.8,153.1 1402.2,152.6 1405.0,152.8 C1407.8,153.1 1412.5,155.1 1415.0,155.0 C1417.5,154.9 1417.5,153.9 1420.0,152.0 C1422.5,150.1 1427.2,144.4 1430.0,143.5 C1432.8,142.6 1434.8,145.6 1437.0,146.5 C1439.2,147.4 1440.8,148.2 1443.0,149.0 C1445.2,149.8 1446.3,150.9 1450.0,151.5 C1453.7,152.1 1460.0,152.8 1465.0,152.8 C1470.0,152.9 1475.8,152.2 1480.0,151.8 C1484.2,151.4 1485.0,150.9 1490.0,150.5 C1495.0,150.1 1503.3,149.3 1510.0,149.3 C1516.7,149.3 1520.0,150.1 1530.0,150.3 C1540.0,150.5 1562.0,150.2 1570.0,150.5 C1578.0,150.8 1575.7,151.6 1578.0,152.0 C1580.3,152.4 1583.0,152.7 1584.0,152.8" fill="none" stroke="#e0443e" stroke-width="1.1" stroke-linejoin="round"/>
<path d="M946.0,187.5 C948.3,188.0 955.2,189.1 960.0,190.5 C964.8,191.9 970.8,194.3 975.0,196.0 C979.2,197.7 981.7,199.3 985.0,200.5 C988.3,201.7 992.0,202.6 995.0,203.0 C998.0,203.4 1000.2,203.4 1003.0,203.0 C1005.8,202.6 1008.3,201.8 1012.0,200.5 C1015.7,199.2 1020.3,197.2 1025.0,195.5 C1029.7,193.8 1035.8,191.3 1040.0,190.0 C1044.2,188.7 1046.7,187.8 1050.0,187.5 C1053.3,187.2 1055.8,187.8 1060.0,188.5 C1064.2,189.2 1069.2,190.4 1075.0,191.5 C1080.8,192.6 1089.2,194.2 1095.0,195.0 C1100.8,195.8 1105.0,196.1 1110.0,196.0 C1115.0,195.9 1120.0,195.2 1125.0,194.5 C1130.0,193.8 1135.0,192.4 1140.0,191.5 C1145.0,190.6 1149.2,190.3 1155.0,189.0 C1160.8,187.7 1168.3,185.7 1175.0,183.5 C1181.7,181.3 1188.3,178.2 1195.0,176.0 C1201.7,173.8 1208.3,172.1 1215.0,170.0 C1221.7,167.9 1229.2,165.5 1235.0,163.5 C1240.8,161.5 1244.2,160.0 1250.0,158.0 C1255.8,156.0 1263.3,153.3 1270.0,151.5 C1276.7,149.7 1283.3,148.4 1290.0,147.0 C1296.7,145.6 1301.7,145.4 1310.0,143.0 C1318.3,140.6 1331.7,135.6 1340.0,132.5 C1348.3,129.4 1354.2,126.8 1360.0,124.5 C1365.8,122.2 1371.3,120.0 1375.0,119.0 C1378.7,118.0 1378.7,118.2 1382.0,118.5 C1385.3,118.8 1390.3,120.0 1395.0,121.0 C1399.7,122.0 1405.8,123.3 1410.0,124.5 C1414.2,125.7 1416.7,126.8 1420.0,128.0 C1423.3,129.2 1427.2,130.5 1430.0,131.5 C1432.8,132.5 1433.7,133.6 1437.0,133.8 C1440.3,134.0 1445.3,133.2 1450.0,132.8 C1454.7,132.4 1460.0,132.1 1465.0,131.5 C1470.0,130.9 1475.0,130.2 1480.0,129.0 C1485.0,127.8 1489.5,126.5 1495.0,124.5 C1500.5,122.5 1506.5,119.7 1513.0,117.0 C1519.5,114.3 1526.8,111.7 1534.0,108.6 C1541.2,105.5 1550.0,101.1 1556.0,98.6 C1562.0,96.1 1565.3,95.2 1570.0,93.8 C1574.7,92.4 1581.7,90.8 1584.0,90.2" fill="none" stroke="#1c1c1c" stroke-width="0.95" stroke-linejoin="round"/>
<path d="M944.4,187.1a1.85,1.85 0 1,0 3.7,0a1.85,1.85 0 1,0 -3.7,0zM950.9,186.7a1.85,1.85 0 1,0 3.7,0a1.85,1.85 0 1,0 -3.7,0zM958.0,187.4a1.85,1.85 0 1,0 3.7,0a1.85,1.85 0 1,0 -3.7,0zM964.9,188.6a1.85,1.85 0 1,0 3.7,0a1.85,1.85 0 1,0 -3.7,0zM972.1,191.4a1.85,1.85 0 1,0 3.7,0a1.85,1.85 0 1,0 -3.7,0zM978.9,195.3a1.85,1.85 0 1,0 3.7,0a1.85,1.85 0 1,0 -3.7,0zM986.1,198.9a1.85,1.85 0 1,0 3.7,0a1.85,1.85 0 1,0 -3.7,0zM993.4,200.8a1.85,1.85 0 1,0 3.7,0a1.85,1.85 0 1,0 -3.7,0zM1000.6,202.1a1.85,1.85 0 1,0 3.7,0a1.85,1.85 0 1,0 -3.7,0zM1007.9,201.5a1.85,1.85 0 1,0 3.7,0a1.85,1.85 0 1,0 -3.7,0zM1014.4,199.7a1.85,1.85 0 1,0 3.7,0a1.85,1.85 0 1,0 -3.7,0zM1021.5,195.3a1.85,1.85 0 1,0 3.7,0a1.85,1.85 0 1,0 -3.7,0zM1028.2,192.0a1.85,1.85 0 1,0 3.7,0a1.85,1.85 0 1,0 -3.7,0zM1035.5,188.6a1.85,1.85 0 1,0 3.7,0a1.85,1.85 0 1,0 -3.7,0zM1042.2,184.5a1.85,1.85 0 1,0 3.7,0a1.85,1.85 0 1,0 -3.7,0zM1049.2,183.4a1.85,1.85 0 1,0 3.7,0a1.85,1.85 0 1,0 -3.7,0zM1056.1,186.3a1.85,1.85 0 1,0 3.7,0a1.85,1.85 0 1,0 -3.7,0zM1063.2,190.0a1.85,1.85 0 1,0 3.7,0a1.85,1.85 0 1,0 -3.7,0zM1070.5,195.3a1.85,1.85 0 1,0 3.7,0a1.85,1.85 0 1,0 -3.7,0zM1077.2,196.8a1.85,1.85 0 1,0 3.7,0a1.85,1.85 0 1,0 -3.7,0zM1084.5,197.2a1.85,1.85 0 1,0 3.7,0a1.85,1.85 0 1,0 -3.7,0zM1091.2,197.2a1.85,1.85 0 1,0 3.7,0a1.85,1.85 0 1,0 -3.7,0zM1098.2,197.5a1.85,1.85 0 1,0 3.7,0a1.85,1.85 0 1,0 -3.7,0zM1105.1,199.0a1.85,1.85 0 1,0 3.7,0a1.85,1.85 0 1,0 -3.7,0zM1112.6,200.0a1.85,1.85 0 1,0 3.7,0a1.85,1.85 0 1,0 -3.7,0zM1119.1,199.7a1.85,1.85 0 1,0 3.7,0a1.85,1.85 0 1,0 -3.7,0zM1126.2,197.2a1.85,1.85 0 1,0 3.7,0a1.85,1.85 0 1,0 -3.7,0zM1134.0,192.0a1.85,1.85 0 1,0 3.7,0a1.85,1.85 0 1,0 -3.7,0zM1140.8,186.7a1.85,1.85 0 1,0 3.7,0a1.85,1.85 0 1,0 -3.7,0zM1147.5,183.8a1.85,1.85 0 1,0 3.7,0a1.85,1.85 0 1,0 -3.7,0zM1154.5,182.8a1.85,1.85 0 1,0 3.7,0a1.85,1.85 0 1,0 -3.7,0zM1161.7,180.9a1.85,1.85 0 1,0 3.7,0a1.85,1.85 0 1,0 -3.7,0zM1168.2,180.2a1.85,1.85 0 1,0 3.7,0a1.85,1.85 0 1,0 -3.7,0zM1175.4,178.5a1.85,1.85 0 1,0 3.7,0a1.85,1.85 0 1,0 -3.7,0zM1181.9,175.6a1.85,1.85 0 1,0 3.7,0a1.85,1.85 0 1,0 -3.7,0zM1189.4,172.3a1.85,1.85 0 1,0 3.7,0a1.85,1.85 0 1,0 -3.7,0zM1197.0,172.6a1.85,1.85 0 1,0 3.7,0a1.85,1.85 0 1,0 -3.7,0zM1203.5,172.6a1.85,1.85 0 1,0 3.7,0a1.85,1.85 0 1,0 -3.7,0zM1210.7,172.3a1.85,1.85 0 1,0 3.7,0a1.85,1.85 0 1,0 -3.7,0zM1217.6,169.1a1.85,1.85 0 1,0 3.7,0a1.85,1.85 0 1,0 -3.7,0zM1224.8,166.5a1.85,1.85 0 1,0 3.7,0a1.85,1.85 0 1,0 -3.7,0zM1231.5,163.0a1.85,1.85 0 1,0 3.7,0a1.85,1.85 0 1,0 -3.7,0zM1238.6,160.7a1.85,1.85 0 1,0 3.7,0a1.85,1.85 0 1,0 -3.7,0zM1245.5,157.8a1.85,1.85 0 1,0 3.7,0a1.85,1.85 0 1,0 -3.7,0zM1252.4,155.0a1.85,1.85 0 1,0 3.7,0a1.85,1.85 0 1,0 -3.7,0zM1259.2,152.1a1.85,1.85 0 1,0 3.7,0a1.85,1.85 0 1,0 -3.7,0zM1266.4,149.6a1.85,1.85 0 1,0 3.7,0a1.85,1.85 0 1,0 -3.7,0zM1273.6,146.0a1.85,1.85 0 1,0 3.7,0a1.85,1.85 0 1,0 -3.7,0zM1280.4,143.1a1.85,1.85 0 1,0 3.7,0a1.85,1.85 0 1,0 -3.7,0zM1287.6,143.1a1.85,1.85 0 1,0 3.7,0a1.85,1.85 0 1,0 -3.7,0zM1294.5,145.6a1.85,1.85 0 1,0 3.7,0a1.85,1.85 0 1,0 -3.7,0zM1301.8,145.3a1.85,1.85 0 1,0 3.7,0a1.85,1.85 0 1,0 -3.7,0zM1308.2,143.4a1.85,1.85 0 1,0 3.7,0a1.85,1.85 0 1,0 -3.7,0zM1315.5,140.5a1.85,1.85 0 1,0 3.7,0a1.85,1.85 0 1,0 -3.7,0zM1322.7,138.1a1.85,1.85 0 1,0 3.7,0a1.85,1.85 0 1,0 -3.7,0zM1329.9,135.8a1.85,1.85 0 1,0 3.7,0a1.85,1.85 0 1,0 -3.7,0zM1337.1,132.2a1.85,1.85 0 1,0 3.7,0a1.85,1.85 0 1,0 -3.7,0zM1343.6,130.0a1.85,1.85 0 1,0 3.7,0a1.85,1.85 0 1,0 -3.7,0zM1350.8,127.3a1.85,1.85 0 1,0 3.7,0a1.85,1.85 0 1,0 -3.7,0zM1357.2,123.9a1.85,1.85 0 1,0 3.7,0a1.85,1.85 0 1,0 -3.7,0zM1364.9,121.1a1.85,1.85 0 1,0 3.7,0a1.85,1.85 0 1,0 -3.7,0zM1371.7,117.9a1.85,1.85 0 1,0 3.7,0a1.85,1.85 0 1,0 -3.7,0zM1378.6,115.0a1.85,1.85 0 1,0 3.7,0a1.85,1.85 0 1,0 -3.7,0zM1385.4,114.3a1.85,1.85 0 1,0 3.7,0a1.85,1.85 0 1,0 -3.7,0zM1392.6,116.0a1.85,1.85 0 1,0 3.7,0a1.85,1.85 0 1,0 -3.7,0zM1399.6,119.9a1.85,1.85 0 1,0 3.7,0a1.85,1.85 0 1,0 -3.7,0zM1406.8,122.2a1.85,1.85 0 1,0 3.7,0a1.85,1.85 0 1,0 -3.7,0zM1414.2,121.1a1.85,1.85 0 1,0 3.7,0a1.85,1.85 0 1,0 -3.7,0zM1420.8,129.7a1.85,1.85 0 1,0 3.7,0a1.85,1.85 0 1,0 -3.7,0zM1428.0,136.6a1.85,1.85 0 1,0 3.7,0a1.85,1.85 0 1,0 -3.7,0zM1434.7,134.5a1.85,1.85 0 1,0 3.7,0a1.85,1.85 0 1,0 -3.7,0zM1441.9,132.6a1.85,1.85 0 1,0 3.7,0a1.85,1.85 0 1,0 -3.7,0zM1448.8,130.9a1.85,1.85 0 1,0 3.7,0a1.85,1.85 0 1,0 -3.7,0zM1456.0,130.0a1.85,1.85 0 1,0 3.7,0a1.85,1.85 0 1,0 -3.7,0zM1462.8,129.4a1.85,1.85 0 1,0 3.7,0a1.85,1.85 0 1,0 -3.7,0zM1469.8,127.8a1.85,1.85 0 1,0 3.7,0a1.85,1.85 0 1,0 -3.7,0zM1476.7,127.1a1.85,1.85 0 1,0 3.7,0a1.85,1.85 0 1,0 -3.7,0zM1483.5,126.0a1.85,1.85 0 1,0 3.7,0a1.85,1.85 0 1,0 -3.7,0zM1490.8,123.7a1.85,1.85 0 1,0 3.7,0a1.85,1.85 0 1,0 -3.7,0zM1497.8,122.0a1.85,1.85 0 1,0 3.7,0a1.85,1.85 0 1,0 -3.7,0zM1504.7,119.3a1.85,1.85 0 1,0 3.7,0a1.85,1.85 0 1,0 -3.7,0zM1511.5,116.6a1.85,1.85 0 1,0 3.7,0a1.85,1.85 0 1,0 -3.7,0zM1518.7,114.3a1.85,1.85 0 1,0 3.7,0a1.85,1.85 0 1,0 -3.7,0zM1525.8,111.3a1.85,1.85 0 1,0 3.7,0a1.85,1.85 0 1,0 -3.7,0zM1532.7,108.4a1.85,1.85 0 1,0 3.7,0a1.85,1.85 0 1,0 -3.7,0zM1539.8,105.3a1.85,1.85 0 1,0 3.7,0a1.85,1.85 0 1,0 -3.7,0zM1547.0,102.1a1.85,1.85 0 1,0 3.7,0a1.85,1.85 0 1,0 -3.7,0zM1554.2,98.9a1.85,1.85 0 1,0 3.7,0a1.85,1.85 0 1,0 -3.7,0zM1560.9,95.7a1.85,1.85 0 1,0 3.7,0a1.85,1.85 0 1,0 -3.7,0zM1568.0,93.6a1.85,1.85 0 1,0 3.7,0a1.85,1.85 0 1,0 -3.7,0zM1575.0,91.2a1.85,1.85 0 1,0 3.7,0a1.85,1.85 0 1,0 -3.7,0zM1582.6,89.8a1.85,1.85 0 1,0 3.7,0a1.85,1.85 0 1,0 -3.7,0z" fill="#000"/>
<path d="M1002.5,196 L1002.5,209 M1001,200.5 L1002.5,203 L1004,200.5" stroke="#d01818" stroke-width="1.3" fill="none"/>
<text transform="translate(944.44,232.70) scale(1.3325,1)" font-family='"Liberation Sans", sans-serif' font-weight="bold" font-size="7.14" fill="#0c0c0c" >0</text>
<text transform="translate(1138.80,232.70) scale(1.1992,1)" font-family='"Liberation Sans", sans-serif' font-weight="bold" font-size="7.14" fill="#0c0c0c" >625</text>
<text transform="translate(1335.25,232.70) scale(1.2011,1)" font-family='"Liberation Sans", sans-serif' font-weight="bold" font-size="7.14" fill="#0c0c0c" >1250</text>
<text transform="translate(1534.15,232.70) scale(1.1955,1)" font-family='"Liberation Sans", sans-serif' font-weight="bold" font-size="7.14" fill="#0c0c0c" >1875</text>
<line x1="947.2" y1="235.8" x2="947.2" y2="239" stroke="#333" stroke-width="0.9"/>
<line x1="1146.2" y1="235.8" x2="1146.2" y2="239" stroke="#333" stroke-width="0.9"/>
<line x1="1345.1" y1="235.8" x2="1345.1" y2="239" stroke="#333" stroke-width="0.9"/>
<line x1="1544" y1="235.8" x2="1544" y2="239" stroke="#333" stroke-width="0.9"/>
<rect x="1631" y="226.5" width="14.6" height="13.3" fill="#dcdcdc" stroke="#bdbdbd" stroke-width="0.6"/>
<text transform="translate(1594.59,237.50) scale(0.9804,1)" font-family='"Liberation Sans", sans-serif' font-weight="bold" font-size="14.77" fill="#000" >meters</text>
<text transform="translate(861.13,251.60) scale(1.4052,1)" font-family='"Liberation Sans", sans-serif' font-weight="bold" font-size="7.43" fill="#0c0c0c" >0-</text>
<text transform="translate(850.77,291.60) scale(1.3206,1)" font-family='"Liberation Sans", sans-serif' font-weight="bold" font-size="7.43" fill="#0c0c0c" >376-</text>
<text transform="translate(850.57,331.80) scale(1.3344,1)" font-family='"Liberation Sans", sans-serif' font-weight="bold" font-size="7.43" fill="#0c0c0c" >752-</text>
<text transform="translate(845.61,371.80) scale(1.3347,1)" font-family='"Liberation Sans", sans-serif' font-weight="bold" font-size="7.43" fill="#0c0c0c" >1128-</text>
<text transform="translate(836.40,341.20) rotate(-90) scale(1.4082,1)" font-family='"Liberation Sans", sans-serif' font-weight="bold" font-size="7.10" fill="#0c0c0c">Depth</text>
<text transform="translate(847.20,342.13) rotate(-90) scale(1.2660,1)" font-family='"Liberation Sans", sans-serif' font-weight="bold" font-size="7.10" fill="#0c0c0c">meters</text>
<line x1="944.90" y1="247.0" x2="1589" y2="247.0" stroke="#4a4ac0" stroke-width="2.2" stroke-dasharray="3.0 4.070"/>
<g clip-path="url(#clip4)">
<polygon points="945.4,249.3 1588.2,249.3 1592.2,398.5 945.4,398.5" fill="#00ff00"/>
<path d="M940.0,274.5 C941.2,274.3 944.8,274.0 947.0,273.5 C949.2,273.0 951.3,271.7 953.2,271.7 C955.1,271.7 956.3,271.7 958.5,273.5 C960.7,275.3 963.6,278.8 966.4,282.3 C969.2,285.8 972.4,290.5 975.3,294.6 C978.2,298.7 981.1,303.6 984.0,307.0 C986.9,310.4 989.9,312.8 992.9,314.9 C995.9,316.9 998.8,318.1 1001.7,319.3 C1004.6,320.5 1008.0,321.6 1010.5,322.0 C1013.0,322.4 1014.8,322.1 1016.7,321.4 C1018.6,320.7 1020.1,320.0 1022.0,317.6 C1023.9,315.2 1026.2,311.1 1028.1,307.0 C1030.0,302.9 1031.6,297.6 1033.4,292.9 C1035.2,288.2 1037.1,282.3 1038.7,278.8 C1040.3,275.3 1041.3,273.2 1043.1,271.7 C1044.9,270.2 1047.4,270.0 1049.3,270.0 C1051.2,270.0 1052.5,269.3 1054.6,271.7 C1056.6,274.1 1059.0,278.8 1061.6,284.1 C1064.2,289.4 1067.5,297.3 1070.4,303.5 C1073.4,309.7 1076.7,316.4 1079.3,321.1 C1081.9,325.8 1083.9,328.8 1086.3,331.7 C1088.7,334.6 1090.8,336.9 1093.4,338.7 C1096.1,340.4 1099.4,341.3 1102.2,342.2 C1105.0,343.1 1108.0,344.3 1110.1,344.0 C1112.1,343.7 1112.3,342.9 1114.5,340.5 C1116.7,338.1 1120.1,334.0 1123.3,329.9 C1126.5,325.8 1130.7,320.5 1133.9,315.8 C1137.1,311.1 1140.5,305.1 1142.7,301.7 C1144.9,298.3 1145.3,297.0 1147.1,295.5 C1148.9,294.0 1151.1,293.2 1153.3,292.9 C1155.5,292.6 1157.6,293.1 1160.0,293.8 C1162.4,294.5 1164.3,297.2 1167.6,297.3 C1170.9,297.4 1176.2,294.3 1180.0,294.6 C1183.8,294.9 1186.1,297.5 1190.5,299.0 C1194.9,300.5 1201.7,302.2 1206.4,303.5 C1211.1,304.8 1214.6,307.0 1218.7,307.0 C1222.8,307.0 1227.3,305.9 1231.1,303.5 C1234.9,301.1 1238.5,295.6 1241.7,292.9 C1244.9,290.2 1247.0,288.5 1250.5,287.2 C1254.0,285.9 1259.3,284.4 1262.8,285.0 C1266.3,285.6 1268.1,288.9 1271.6,291.1 C1275.1,293.3 1279.9,296.0 1284.0,298.2 C1288.1,300.4 1292.2,302.4 1296.3,304.3 C1300.4,306.2 1305.5,308.6 1308.6,309.6 C1311.7,310.6 1313.2,311.8 1314.8,310.5 C1316.4,309.2 1316.4,303.9 1318.3,301.7 C1320.2,299.5 1322.0,298.3 1326.3,297.3 C1330.6,296.3 1339.2,296.8 1343.9,295.5 C1348.6,294.2 1351.1,291.1 1354.5,289.4 C1357.9,287.6 1362.0,287.1 1364.2,285.0 C1366.4,282.9 1366.7,279.1 1367.7,277.0 C1368.8,274.9 1369.4,273.7 1370.5,272.5 C1371.6,271.3 1372.6,270.1 1374.1,270.0 C1375.6,269.9 1377.1,270.4 1379.4,271.7 C1381.8,273.0 1384.7,275.4 1388.2,277.9 C1391.7,280.4 1396.4,284.2 1400.5,286.7 C1404.6,289.2 1409.4,291.3 1412.9,292.9 C1416.4,294.5 1419.2,296.1 1421.7,296.4 C1424.2,296.7 1426.3,295.9 1427.9,294.6 C1429.5,293.3 1430.1,289.4 1431.4,288.5 C1432.7,287.6 1433.6,289.6 1435.8,289.0 C1438.0,288.4 1441.4,286.0 1444.6,285.0 C1447.8,284.0 1451.7,283.1 1455.2,283.2 C1458.7,283.3 1462.3,284.5 1465.8,285.5 C1469.3,286.5 1472.8,289.6 1476.3,289.4 C1479.8,289.2 1483.1,286.3 1486.9,284.1 C1490.7,281.9 1495.2,278.2 1499.3,276.1 C1503.4,274.0 1507.9,272.2 1511.6,271.7 C1515.3,271.2 1516.5,273.0 1521.7,272.9 C1526.9,272.8 1537.7,271.7 1542.5,271.2 C1547.3,270.8 1547.3,271.1 1550.8,270.2 C1554.3,269.3 1559.1,267.4 1563.3,266.0 C1567.5,264.6 1571.8,263.2 1575.8,261.9 C1579.8,260.6 1584.3,259.1 1587.3,258.1 C1590.3,257.1 1592.9,256.4 1594.0,256.0 L1614.0,256.0 L1612.2,418.5 L925.4,418.5 L920.0,274.5 Z" fill="url(#dots)"/>
<path d="M940.0,274.5 C941.2,274.3 944.8,274.0 947.0,273.5 C949.2,273.0 951.3,271.7 953.2,271.7 C955.1,271.7 956.3,271.7 958.5,273.5 C960.7,275.3 963.6,278.8 966.4,282.3 C969.2,285.8 972.4,290.5 975.3,294.6 C978.2,298.7 981.1,303.6 984.0,307.0 C986.9,310.4 989.9,312.8 992.9,314.9 C995.9,316.9 998.8,318.1 1001.7,319.3 C1004.6,320.5 1008.0,321.6 1010.5,322.0 C1013.0,322.4 1014.8,322.1 1016.7,321.4 C1018.6,320.7 1020.1,320.0 1022.0,317.6 C1023.9,315.2 1026.2,311.1 1028.1,307.0 C1030.0,302.9 1031.6,297.6 1033.4,292.9 C1035.2,288.2 1037.1,282.3 1038.7,278.8 C1040.3,275.3 1041.3,273.2 1043.1,271.7 C1044.9,270.2 1047.4,270.0 1049.3,270.0 C1051.2,270.0 1052.5,269.3 1054.6,271.7 C1056.6,274.1 1059.0,278.8 1061.6,284.1 C1064.2,289.4 1067.5,297.3 1070.4,303.5 C1073.4,309.7 1076.7,316.4 1079.3,321.1 C1081.9,325.8 1083.9,328.8 1086.3,331.7 C1088.7,334.6 1090.8,336.9 1093.4,338.7 C1096.1,340.4 1099.4,341.3 1102.2,342.2 C1105.0,343.1 1108.0,344.3 1110.1,344.0 C1112.1,343.7 1112.3,342.9 1114.5,340.5 C1116.7,338.1 1120.1,334.0 1123.3,329.9 C1126.5,325.8 1130.7,320.5 1133.9,315.8 C1137.1,311.1 1140.5,305.1 1142.7,301.7 C1144.9,298.3 1145.3,297.0 1147.1,295.5 C1148.9,294.0 1151.1,293.2 1153.3,292.9 C1155.5,292.6 1157.6,293.1 1160.0,293.8 C1162.4,294.5 1164.3,297.2 1167.6,297.3 C1170.9,297.4 1176.2,294.3 1180.0,294.6 C1183.8,294.9 1186.1,297.5 1190.5,299.0 C1194.9,300.5 1201.7,302.2 1206.4,303.5 C1211.1,304.8 1214.6,307.0 1218.7,307.0 C1222.8,307.0 1227.3,305.9 1231.1,303.5 C1234.9,301.1 1238.5,295.6 1241.7,292.9 C1244.9,290.2 1247.0,288.5 1250.5,287.2 C1254.0,285.9 1259.3,284.4 1262.8,285.0 C1266.3,285.6 1268.1,288.9 1271.6,291.1 C1275.1,293.3 1279.9,296.0 1284.0,298.2 C1288.1,300.4 1292.2,302.4 1296.3,304.3 C1300.4,306.2 1305.5,308.6 1308.6,309.6 C1311.7,310.6 1313.2,311.8 1314.8,310.5 C1316.4,309.2 1316.4,303.9 1318.3,301.7 C1320.2,299.5 1322.0,298.3 1326.3,297.3 C1330.6,296.3 1339.2,296.8 1343.9,295.5 C1348.6,294.2 1351.1,291.1 1354.5,289.4 C1357.9,287.6 1362.0,287.1 1364.2,285.0 C1366.4,282.9 1366.7,279.1 1367.7,277.0 C1368.8,274.9 1369.4,273.7 1370.5,272.5 C1371.6,271.3 1372.6,270.1 1374.1,270.0 C1375.6,269.9 1377.1,270.4 1379.4,271.7 C1381.8,273.0 1384.7,275.4 1388.2,277.9 C1391.7,280.4 1396.4,284.2 1400.5,286.7 C1404.6,289.2 1409.4,291.3 1412.9,292.9 C1416.4,294.5 1419.2,296.1 1421.7,296.4 C1424.2,296.7 1426.3,295.9 1427.9,294.6 C1429.5,293.3 1430.1,289.4 1431.4,288.5 C1432.7,287.6 1433.6,289.6 1435.8,289.0 C1438.0,288.4 1441.4,286.0 1444.6,285.0 C1447.8,284.0 1451.7,283.1 1455.2,283.2 C1458.7,283.3 1462.3,284.5 1465.8,285.5 C1469.3,286.5 1472.8,289.6 1476.3,289.4 C1479.8,289.2 1483.1,286.3 1486.9,284.1 C1490.7,281.9 1495.2,278.2 1499.3,276.1 C1503.4,274.0 1507.9,272.2 1511.6,271.7 C1515.3,271.2 1516.5,273.0 1521.7,272.9 C1526.9,272.8 1537.7,271.7 1542.5,271.2 C1547.3,270.8 1547.3,271.1 1550.8,270.2 C1554.3,269.3 1559.1,267.4 1563.3,266.0 C1567.5,264.6 1571.8,263.2 1575.8,261.9 C1579.8,260.6 1584.3,259.1 1587.3,258.1 C1590.3,257.1 1592.9,256.4 1594.0,256.0" fill="none" stroke="#000" stroke-width="2.6" stroke-linejoin="round"/>
</g>
<polygon points="945.4,249.3 1588.2,249.3 1592.2,398.5 945.4,398.5" fill="none" stroke="#000" stroke-width="3.1" stroke-linejoin="miter"/>
<line x1="957.6" y1="265.0" x2="1005.2" y2="334.3" stroke="#fff" stroke-width="2.4" stroke-linecap="round"/>
<line x1="1042.2" y1="262.0" x2="1019.7" y2="337.8" stroke="#fff" stroke-width="2.4" stroke-linecap="round"/>
<line x1="1053.7" y1="262.9" x2="1095.5" y2="350.2" stroke="#fff" stroke-width="2.4" stroke-linecap="round"/>
<line x1="1158.2" y1="281.8" x2="1112.7" y2="348.4" stroke="#fff" stroke-width="2.4" stroke-linecap="round"/>
<line x1="1253.1" y1="274.4" x2="1318.3" y2="321.1" stroke="#fff" stroke-width="2.4" stroke-linecap="round"/>
<line x1="1368.5" y1="260.8" x2="1437.2" y2="310.9" stroke="#fff" stroke-width="2.4" stroke-linecap="round"/>
<g opacity="0.96"><line x1="973.6" y1="282.3" x2="987.2" y2="302.1" stroke="#fff" stroke-width="1.5"/><polygon points="987.2,302.1 986.1,293.7 982.9,295.9" fill="#fff"/></g>
<line x1="973.4" y1="285.3" x2="984.3" y2="301.2" stroke="#fff" stroke-width="0.8" opacity="0.6"/>
<g opacity="0.96"><line x1="981.6" y1="305.9" x2="968.0" y2="286.1" stroke="#fff" stroke-width="1.5"/><polygon points="968.0,286.1 969.1,294.5 972.2,292.3" fill="#fff"/></g>
<g opacity="0.96"><line x1="1031.4" y1="286.5" x2="1024.0" y2="311.4" stroke="#fff" stroke-width="1.5"/><polygon points="1024.0,311.4 1022.5,303.1 1026.1,304.2" fill="#fff"/></g>
<line x1="1032.4" y1="289.5" x2="1026.5" y2="309.4" stroke="#fff" stroke-width="0.8" opacity="0.6"/>
<g opacity="0.96"><line x1="1030.5" y1="313.3" x2="1037.9" y2="288.4" stroke="#fff" stroke-width="1.5"/><polygon points="1037.9,288.4 1039.4,296.7 1035.8,295.6" fill="#fff"/></g>
<g opacity="0.96"><line x1="1067.4" y1="283.7" x2="1079.5" y2="309.0" stroke="#fff" stroke-width="1.5"/><polygon points="1079.5,309.0 1079.7,300.6 1076.3,302.2" fill="#fff"/></g>
<line x1="1067.0" y1="287.1" x2="1076.6" y2="307.3" stroke="#fff" stroke-width="0.8" opacity="0.6"/>
<g opacity="0.96"><line x1="1073.4" y1="311.9" x2="1061.3" y2="286.7" stroke="#fff" stroke-width="1.5"/><polygon points="1061.3,286.7 1061.1,295.1 1064.5,293.4" fill="#fff"/></g>
<g opacity="0.96"><line x1="1140.5" y1="301.6" x2="1124.7" y2="324.7" stroke="#fff" stroke-width="1.5"/><polygon points="1124.7,324.7 1125.8,316.4 1129.0,318.5" fill="#fff"/></g>
<line x1="1140.5" y1="305.0" x2="1127.9" y2="323.5" stroke="#fff" stroke-width="0.8" opacity="0.6"/>
<g opacity="0.96"><line x1="1130.4" y1="328.6" x2="1146.2" y2="305.5" stroke="#fff" stroke-width="1.5"/><polygon points="1146.2,305.5 1145.1,313.8 1141.9,311.7" fill="#fff"/></g>
<g opacity="0.96"><line x1="1277.9" y1="288.0" x2="1297.4" y2="302.0" stroke="#fff" stroke-width="1.5"/><polygon points="1297.4,302.0 1293.6,294.5 1291.3,297.6" fill="#fff"/></g>
<line x1="1278.8" y1="290.9" x2="1294.4" y2="302.1" stroke="#fff" stroke-width="0.8" opacity="0.6"/>
<g opacity="0.96"><line x1="1293.5" y1="307.5" x2="1274.0" y2="293.5" stroke="#fff" stroke-width="1.5"/><polygon points="1274.0,293.5 1277.8,301.0 1280.1,297.9" fill="#fff"/></g>
<g opacity="0.96"><line x1="1394.3" y1="275.4" x2="1415.4" y2="290.8" stroke="#fff" stroke-width="1.5"/><polygon points="1415.4,290.8 1411.5,283.3 1409.3,286.3" fill="#fff"/></g>
<line x1="1395.3" y1="278.5" x2="1412.2" y2="290.7" stroke="#fff" stroke-width="0.8" opacity="0.6"/>
<g opacity="0.96"><line x1="1411.4" y1="296.3" x2="1390.3" y2="280.9" stroke="#fff" stroke-width="1.5"/><polygon points="1390.3,280.9 1394.2,288.4 1396.4,285.4" fill="#fff"/></g>
<text transform="translate(1108.75,270.00) scale(1.0980,1)" font-family='"Liberation Sans", sans-serif' font-weight="bold" font-size="13.62" fill="#0a2a0a" >Sedimentry rocks</text>
<text transform="translate(1442.95,334.20) scale(1.0094,1)" font-family='"Liberation Sans", sans-serif' font-weight="bold" font-size="17.68" fill="#fff" >Basement rocks</text>
<text transform="translate(1462.73,350.20) scale(1.0358,1)" font-family='"Liberation Sans", sans-serif' font-weight="bold" font-size="12.03" fill="#fff" >Susc.= 0.003 cgs</text>
<text transform="translate(953.61,383.70) scale(1.0590,1)" font-family='"Liberation Sans", sans-serif' font-weight="bold" font-size="12.03" fill="#fff" >Possible Faults</text>
<line x1="960.3" y1="367.4" x2="1012" y2="367.4" stroke="#fff" stroke-width="2"/>
<path d="M981.4,366.6 L981.4,363.8 L999,363.8 L999,361.8 L1012.4,366.6 Z" fill="#f8e0e0"/>
<path d="M1012,368.2 L1012,371 L993,371 L993,373 L981.4,368.2 Z" fill="#f8e0e0"/>
<rect x="27.2" y="597.5" width="43.3" height="124.5" fill="#d2d2d2"/>
<rect x="27.1" y="734.2" width="43.4" height="160.6" fill="#d2d2d2"/>
<rect x="27.1" y="734.2" width="750.5" height="14.3" fill="#d2d2d2"/>
<text transform="translate(55.09,624.10) scale(1.1865,1)" font-family='"Liberation Sans", sans-serif' font-weight="bold" font-size="8.86" fill="#0c0c0c" >15-</text>
<text transform="translate(55.09,659.40) scale(1.1865,1)" font-family='"Liberation Sans", sans-serif' font-weight="bold" font-size="8.86" fill="#0c0c0c" >10-</text>
<text transform="translate(60.82,694.10) scale(1.1929,1)" font-family='"Liberation Sans", sans-serif' font-weight="bold" font-size="8.86" fill="#0c0c0c" >5-</text>
<rect x="61" y="721.4" width="3.4" height="1" fill="#333"/>
<text transform="translate(35.30,662.05) rotate(-90) scale(1.0895,1)" font-family='"Liberation Sans", sans-serif' font-weight="bold" font-size="7.25" fill="#0c0c0c">nT</text>
<text transform="translate(46.40,666.28) rotate(-90) scale(1.1419,1)" font-family='"Liberation Sans", sans-serif' font-weight="bold" font-size="7.25" fill="#0c0c0c">nT/m</text>
<text transform="translate(72.05,721.60) scale(1.0733,1)" font-family='"Liberation Sans", sans-serif' font-weight="normal" font-size="6.38" fill="#333" >ERR=0.907</text>
<text transform="translate(71.50,602.00) scale(1.0781,1)" font-family='"Liberation Sans", sans-serif' font-weight="normal" font-size="5.80" fill="#40e0e8" >Bhs?</text>
<line x1="70.5" y1="656.1" x2="788.3" y2="656.1" stroke="#8585e0" stroke-width="1.6"/>
<path d="M116.5,658.0 C119.6,657.8 128.6,657.0 135.0,656.7 C141.4,656.5 150.0,656.4 155.0,656.5 C160.0,656.6 162.0,657.0 165.0,657.5 C168.0,658.0 169.7,659.4 173.0,659.3 C176.3,659.2 181.0,658.1 185.0,656.8 C189.0,655.5 193.0,653.3 197.0,651.5 C201.0,649.7 205.0,647.1 209.0,646.2 C213.0,645.3 217.8,645.4 221.0,646.2 C224.2,647.0 225.7,649.4 228.0,651.0 C230.3,652.6 232.0,654.6 235.0,656.0 C238.0,657.4 242.2,659.2 246.0,659.5 C249.8,659.8 253.2,658.2 258.0,657.5 C262.8,656.8 269.7,656.3 275.0,655.5 C280.3,654.7 285.5,654.2 290.0,652.5 C294.5,650.8 298.0,646.0 302.0,645.5 C306.0,645.0 310.2,649.2 314.0,649.5 C317.8,649.8 321.2,648.1 325.0,647.0 C328.8,645.9 332.8,643.8 337.0,643.0 C341.2,642.2 346.2,641.8 350.0,642.5 C353.8,643.2 356.3,645.2 360.0,647.0 C363.7,648.8 367.8,651.4 372.0,653.5 C376.2,655.6 380.7,658.2 385.0,659.5 C389.3,660.8 393.8,660.8 398.0,661.0 C402.2,661.2 406.3,661.1 410.0,660.5 C413.7,659.9 416.7,659.0 420.0,657.5 C423.3,656.0 427.2,653.4 430.0,651.5 C432.8,649.6 434.7,647.6 437.0,646.0 C439.3,644.4 441.3,642.4 444.0,642.0 C446.7,641.6 449.5,642.4 453.0,643.5 C456.5,644.6 461.0,646.9 465.0,648.5 C469.0,650.1 473.0,652.0 477.0,653.0 C481.0,654.0 485.2,654.5 489.0,654.8 C492.8,655.1 496.3,655.2 500.0,655.0 C503.7,654.8 507.3,653.6 511.0,653.8 C514.7,654.0 518.0,655.4 522.0,656.0 C526.0,656.6 530.8,657.0 535.0,657.5 C539.2,658.0 543.0,658.4 547.0,659.0 C551.0,659.6 555.2,660.8 559.0,661.0 C562.8,661.2 566.3,660.9 570.0,660.0 C573.7,659.1 577.2,657.5 581.0,655.5 C584.8,653.5 589.0,650.2 593.0,648.0 C597.0,645.8 601.0,643.5 605.0,642.5 C609.0,641.5 613.2,641.9 617.0,642.3 C620.8,642.7 624.2,643.8 628.0,645.0 C631.8,646.2 636.3,648.4 640.0,649.5 C643.7,650.6 646.2,650.8 650.0,651.8 C653.8,652.8 658.5,654.8 663.0,655.8 C667.5,656.8 672.8,657.7 677.0,657.8 C681.2,657.9 685.0,657.2 688.0,656.5 C691.0,655.8 693.2,654.4 695.0,653.5 C696.8,652.6 698.3,651.6 699.0,651.2" fill="none" stroke="#e0443e" stroke-width="1.15" stroke-linejoin="round"/>
<path d="M116.5,641.2 C120.4,640.2 132.8,637.2 140.0,635.5 C147.2,633.8 154.5,632.2 160.0,631.0 C165.5,629.8 168.8,629.5 173.0,628.5 C177.2,627.5 181.0,626.5 185.0,625.0 C189.0,623.5 192.8,622.0 197.0,619.5 C201.2,617.0 205.8,613.2 210.0,610.0 C214.2,606.8 218.2,602.7 222.0,600.0 C225.8,597.3 229.3,595.2 233.0,594.0 C236.7,592.8 240.3,592.2 244.0,592.5 C247.7,592.8 251.2,593.5 255.0,595.5 C258.8,597.5 263.0,601.1 267.0,604.5 C271.0,607.9 275.0,612.2 279.0,616.0 C283.0,619.8 287.0,624.2 291.0,627.5 C295.0,630.8 299.0,633.8 303.0,636.0 C307.0,638.2 310.8,639.7 315.0,640.8 C319.2,641.9 323.8,642.3 328.0,642.7 C332.2,643.1 334.7,643.3 340.0,643.0 C345.3,642.7 352.5,642.0 360.0,641.0 C367.5,640.0 376.7,638.1 385.0,637.0 C393.3,635.9 402.5,635.2 410.0,634.5 C417.5,633.8 424.7,633.6 430.0,633.0 C435.3,632.4 438.2,631.5 442.0,630.8 C445.8,630.0 449.2,629.7 453.0,628.5 C456.8,627.3 461.0,625.4 465.0,623.5 C469.0,621.6 473.0,619.2 477.0,617.0 C481.0,614.8 485.0,612.4 489.0,610.5 C493.0,608.6 497.2,606.8 501.0,605.5 C504.8,604.2 508.2,603.3 512.0,602.7 C515.8,602.1 520.0,601.7 524.0,602.0 C528.0,602.3 532.2,602.9 536.0,604.5 C539.8,606.1 543.2,608.4 547.0,611.5 C550.8,614.6 555.2,619.1 559.0,623.0 C562.8,626.9 566.2,630.2 570.0,635.0 C573.8,639.8 578.2,646.8 582.0,652.0 C585.8,657.2 589.2,662.3 593.0,666.5 C596.8,670.7 601.0,674.2 605.0,677.0 C609.0,679.8 613.0,681.9 617.0,683.5 C621.0,685.1 625.2,685.8 629.0,686.5 C632.8,687.2 636.5,687.5 640.0,687.6 C643.5,687.8 647.0,687.6 650.0,687.4 C653.0,687.2 655.5,686.8 658.0,686.4 C660.5,686.0 662.0,686.0 665.0,685.0 C668.0,684.0 672.2,682.3 676.0,680.5 C679.8,678.7 684.2,676.1 688.0,674.0 C691.8,671.9 696.8,669.0 698.5,668.0" fill="none" stroke="#1a1a1a" stroke-width="1.1" stroke-linejoin="round"/>
<path d="M113.9,637.2a2.0,2.0 0 1,0 4.0,0a2.0,2.0 0 1,0 -4.0,0zM125.0,635.9a2.0,2.0 0 1,0 4.0,0a2.0,2.0 0 1,0 -4.0,0zM136.6,633.6a2.0,2.0 0 1,0 4.0,0a2.0,2.0 0 1,0 -4.0,0zM148.5,630.4a2.0,2.0 0 1,0 4.0,0a2.0,2.0 0 1,0 -4.0,0zM160.1,627.1a2.0,2.0 0 1,0 4.0,0a2.0,2.0 0 1,0 -4.0,0zM171.9,624.2a2.0,2.0 0 1,0 4.0,0a2.0,2.0 0 1,0 -4.0,0zM183.6,622.7a2.0,2.0 0 1,0 4.0,0a2.0,2.0 0 1,0 -4.0,0zM195.1,621.4a2.0,2.0 0 1,0 4.0,0a2.0,2.0 0 1,0 -4.0,0zM207.0,618.8a2.0,2.0 0 1,0 4.0,0a2.0,2.0 0 1,0 -4.0,0zM218.8,609.9a2.0,2.0 0 1,0 4.0,0a2.0,2.0 0 1,0 -4.0,0zM230.2,594.2a2.0,2.0 0 1,0 4.0,0a2.0,2.0 0 1,0 -4.0,0zM253.7,594.5a2.0,2.0 0 1,0 4.0,0a2.0,2.0 0 1,0 -4.0,0zM264.8,606.3a2.0,2.0 0 1,0 4.0,0a2.0,2.0 0 1,0 -4.0,0zM276.7,617.3a2.0,2.0 0 1,0 4.0,0a2.0,2.0 0 1,0 -4.0,0zM288.3,629.1a2.0,2.0 0 1,0 4.0,0a2.0,2.0 0 1,0 -4.0,0zM300.2,642.8a2.0,2.0 0 1,0 4.0,0a2.0,2.0 0 1,0 -4.0,0zM311.7,645.2a2.0,2.0 0 1,0 4.0,0a2.0,2.0 0 1,0 -4.0,0zM323.5,650.3a2.0,2.0 0 1,0 4.0,0a2.0,2.0 0 1,0 -4.0,0zM335.2,655.5a2.0,2.0 0 1,0 4.0,0a2.0,2.0 0 1,0 -4.0,0zM347.0,654.3a2.0,2.0 0 1,0 4.0,0a2.0,2.0 0 1,0 -4.0,0zM358.6,648.1a2.0,2.0 0 1,0 4.0,0a2.0,2.0 0 1,0 -4.0,0zM370.1,641.1a2.0,2.0 0 1,0 4.0,0a2.0,2.0 0 1,0 -4.0,0zM382.0,634.9a2.0,2.0 0 1,0 4.0,0a2.0,2.0 0 1,0 -4.0,0zM393.9,631.3a2.0,2.0 0 1,0 4.0,0a2.0,2.0 0 1,0 -4.0,0zM404.7,631.3a2.0,2.0 0 1,0 4.0,0a2.0,2.0 0 1,0 -4.0,0zM416.7,633.0a2.0,2.0 0 1,0 4.0,0a2.0,2.0 0 1,0 -4.0,0zM428.5,637.7a2.0,2.0 0 1,0 4.0,0a2.0,2.0 0 1,0 -4.0,0zM440.0,645.0a2.0,2.0 0 1,0 4.0,0a2.0,2.0 0 1,0 -4.0,0zM451.8,641.1a2.0,2.0 0 1,0 4.0,0a2.0,2.0 0 1,0 -4.0,0zM463.3,630.5a2.0,2.0 0 1,0 4.0,0a2.0,2.0 0 1,0 -4.0,0zM475.3,620.1a2.0,2.0 0 1,0 4.0,0a2.0,2.0 0 1,0 -4.0,0zM486.8,612.2a2.0,2.0 0 1,0 4.0,0a2.0,2.0 0 1,0 -4.0,0zM498.7,606.7a2.0,2.0 0 1,0 4.0,0a2.0,2.0 0 1,0 -4.0,0zM510.2,604.1a2.0,2.0 0 1,0 4.0,0a2.0,2.0 0 1,0 -4.0,0zM522.0,601.7a2.0,2.0 0 1,0 4.0,0a2.0,2.0 0 1,0 -4.0,0zM534.0,605.6a2.0,2.0 0 1,0 4.0,0a2.0,2.0 0 1,0 -4.0,0zM544.8,612.9a2.0,2.0 0 1,0 4.0,0a2.0,2.0 0 1,0 -4.0,0zM556.7,622.2a2.0,2.0 0 1,0 4.0,0a2.0,2.0 0 1,0 -4.0,0zM568.2,635.6a2.0,2.0 0 1,0 4.0,0a2.0,2.0 0 1,0 -4.0,0zM579.9,653.3a2.0,2.0 0 1,0 4.0,0a2.0,2.0 0 1,0 -4.0,0zM591.3,671.4a2.0,2.0 0 1,0 4.0,0a2.0,2.0 0 1,0 -4.0,0zM603.2,685.6a2.0,2.0 0 1,0 4.0,0a2.0,2.0 0 1,0 -4.0,0zM615.1,693.0a2.0,2.0 0 1,0 4.0,0a2.0,2.0 0 1,0 -4.0,0zM626.8,694.7a2.0,2.0 0 1,0 4.0,0a2.0,2.0 0 1,0 -4.0,0zM638.3,693.7a2.0,2.0 0 1,0 4.0,0a2.0,2.0 0 1,0 -4.0,0zM650.3,689.7a2.0,2.0 0 1,0 4.0,0a2.0,2.0 0 1,0 -4.0,0zM661.8,685.5a2.0,2.0 0 1,0 4.0,0a2.0,2.0 0 1,0 -4.0,0zM673.8,680.3a2.0,2.0 0 1,0 4.0,0a2.0,2.0 0 1,0 -4.0,0zM685.0,674.6a2.0,2.0 0 1,0 4.0,0a2.0,2.0 0 1,0 -4.0,0zM696.5,668.5a2.0,2.0 0 1,0 4.0,0a2.0,2.0 0 1,0 -4.0,0z" fill="#000"/>
<path d="M243.0,589.7a1.2,1.2 0 1,0 2.4,0a1.2,1.2 0 1,0 -2.4,0z" fill="#000"/>
<path d="M524,596.6 L524,608.2 M522.6,599.8 L524,602 L525.4,599.8" stroke="#e02020" stroke-width="1.2" fill="none"/>
<text transform="translate(113.24,742.00) scale(1.2746,1)" font-family='"Liberation Sans", sans-serif' font-weight="bold" font-size="8.57" fill="#0c0c0c" >0</text>
<text transform="translate(306.94,742.00) scale(1.1329,1)" font-family='"Liberation Sans", sans-serif' font-weight="bold" font-size="8.57" fill="#0c0c0c" >375</text>
<text transform="translate(505.44,742.00) scale(1.1543,1)" font-family='"Liberation Sans", sans-serif' font-weight="bold" font-size="8.57" fill="#0c0c0c" >750</text>
<text transform="translate(701.38,742.00) scale(1.1473,1)" font-family='"Liberation Sans", sans-serif' font-weight="bold" font-size="8.57" fill="#0c0c0c" >1125</text>
<line x1="116.3" y1="744" x2="116.3" y2="747.6" stroke="#333" stroke-width="0.9"/>
<line x1="315.2" y1="744" x2="315.2" y2="747.6" stroke="#333" stroke-width="0.9"/>
<line x1="513.9" y1="744" x2="513.9" y2="747.6" stroke="#333" stroke-width="0.9"/>
<line x1="712.4" y1="744" x2="712.4" y2="747.6" stroke="#333" stroke-width="0.9"/>
<text transform="translate(727.09,747.40) scale(0.9207,1)" font-family='"Liberation Sans", sans-serif' font-weight="bold" font-size="15.69" fill="#000" >meters</text>
<line x1="762.3" y1="741" x2="762.3" y2="751" stroke="#777" stroke-width="0.7"/>
<line x1="776.3" y1="736" x2="776.3" y2="748" stroke="#999" stroke-width="0.8"/>
<text transform="translate(60.53,759.05) scale(1.1856,1)" font-family='"Liberation Sans", sans-serif' font-weight="bold" font-size="9.00" fill="#0c0c0c" >0-</text>
<text transform="translate(49.94,797.75) scale(1.1143,1)" font-family='"Liberation Sans", sans-serif' font-weight="bold" font-size="9.00" fill="#0c0c0c" >376-</text>
<text transform="translate(49.74,836.25) scale(1.1259,1)" font-family='"Liberation Sans", sans-serif' font-weight="bold" font-size="9.00" fill="#0c0c0c" >752-</text>
<text transform="translate(44.67,875.85) scale(1.1262,1)" font-family='"Liberation Sans", sans-serif' font-weight="bold" font-size="9.00" fill="#0c0c0c" >1128-</text>
<text transform="translate(35.80,846.23) rotate(-90) scale(1.1500,1)" font-family='"Liberation Sans", sans-serif' font-weight="bold" font-size="7.83" fill="#0c0c0c">Depth</text>
<text transform="translate(47.20,849.06) rotate(-90) scale(1.2052,1)" font-family='"Liberation Sans", sans-serif' font-weight="bold" font-size="7.83" fill="#0c0c0c">meters</text>
<line x1="114.70" y1="752.4" x2="705" y2="752.4" stroke="#3434b4" stroke-width="2.4" stroke-dasharray="3.0 8.650"/>
<g clip-path="url(#clip5)">
<polygon points="113.7,755.1 705.5,755.1 705.5,895.7 113.7,895.7" fill="#00ff00"/>
<path d="M108.0,782.0 C109.3,781.8 112.9,781.3 115.7,780.5 C118.5,779.7 121.6,778.2 124.7,777.4 C127.8,776.6 131.0,776.0 134.1,775.5 C137.2,775.0 140.6,774.5 143.4,774.6 C146.2,774.7 148.1,774.9 150.9,775.9 C153.7,776.9 157.1,779.1 160.2,780.7 C163.3,782.4 166.8,784.2 169.6,785.8 C172.4,787.4 174.9,788.4 177.1,790.4 C179.3,792.4 180.8,794.8 182.7,797.9 C184.6,801.0 186.4,805.0 188.3,809.1 C190.2,813.2 192.2,818.5 193.9,822.2 C195.6,826.0 197.2,829.3 198.6,831.6 C200.0,833.9 200.9,835.1 202.3,835.9 C203.7,836.7 205.6,837.0 207.0,836.3 C208.4,835.6 209.1,834.9 210.7,831.6 C212.3,828.3 214.5,821.9 216.4,816.6 C218.3,811.3 220.1,805.4 222.0,799.8 C223.9,794.2 225.9,787.0 227.6,783.0 C229.3,779.0 230.5,777.4 232.0,775.5 C233.5,773.6 234.5,772.5 236.6,771.5 C238.7,770.5 242.6,769.6 244.8,769.5 C247.0,769.4 248.1,769.5 249.8,770.7 C251.5,771.9 252.6,774.0 254.8,776.5 C257.0,779.0 260.4,783.3 263.1,785.6 C265.9,787.9 268.6,788.9 271.3,790.5 C274.0,792.1 277.2,793.3 279.2,795.2 C281.1,797.1 282.0,799.1 283.0,801.8 C284.0,804.5 284.4,807.8 285.0,811.2 C285.6,814.6 286.0,818.5 286.8,822.0 C287.6,825.5 288.5,829.3 289.8,832.2 C291.1,835.1 292.6,837.4 294.5,839.4 C296.4,841.4 299.0,843.3 301.2,844.4 C303.4,845.5 305.3,845.6 307.8,845.7 C310.3,845.8 313.4,845.7 316.1,845.2 C318.9,844.8 321.8,844.0 324.3,843.0 C326.8,842.0 328.8,841.1 331.0,839.4 C333.2,837.7 335.1,835.8 337.6,832.8 C340.1,829.8 343.1,825.1 345.9,821.2 C348.6,817.3 351.4,813.5 354.1,809.6 C356.9,805.7 359.6,801.9 362.4,798.0 C365.2,794.1 368.2,789.6 370.7,786.4 C373.2,783.2 375.1,780.7 377.3,779.0 C379.5,777.3 381.8,776.7 384.0,776.1 C386.2,775.5 388.7,775.3 390.6,775.6 C392.5,775.9 394.0,776.3 395.6,778.1 C397.2,779.9 398.6,784.2 400.5,786.4 C402.4,788.6 404.6,789.9 407.1,791.4 C409.6,792.9 413.2,794.1 415.4,795.5 C417.5,796.9 417.9,797.6 420.0,799.7 C422.1,801.8 425.5,804.9 428.3,807.9 C431.1,810.9 433.6,814.3 436.6,817.9 C439.6,821.5 443.2,825.6 446.5,829.5 C449.8,833.4 453.4,838.1 456.4,841.1 C459.4,844.1 462.2,846.3 464.7,847.7 C467.2,849.1 469.6,850.0 471.3,849.7 C473.0,849.4 473.0,848.8 474.7,846.0 C476.4,843.2 478.8,837.5 481.3,832.8 C483.8,828.1 486.9,823.1 489.6,817.9 C492.4,812.6 495.1,807.1 497.8,801.3 C500.6,795.5 503.8,787.6 506.1,783.1 C508.5,778.6 510.0,776.2 511.9,774.0 C513.8,771.8 515.4,770.7 517.7,769.8 C520.1,768.9 523.2,768.7 526.0,768.7 C528.8,768.7 531.8,768.9 534.3,769.8 C536.8,770.7 538.7,771.2 540.9,774.0 C543.1,776.8 545.3,781.9 547.5,786.4 C549.7,790.9 551.7,796.0 554.2,801.3 C556.7,806.5 559.6,812.6 562.4,817.9 C565.1,823.1 567.9,828.4 570.7,832.8 C573.5,837.2 576.2,841.2 579.0,844.4 C581.8,847.6 584.5,849.9 587.3,851.8 C590.1,853.7 592.6,854.6 595.6,855.6 C598.6,856.6 602.5,857.3 605.5,857.6 C608.5,857.9 611.6,857.7 613.8,857.3 C616.0,856.9 616.6,856.8 618.7,855.0 C620.8,853.2 623.4,850.7 626.2,846.5 C629.0,842.3 632.4,835.3 635.5,829.7 C638.6,824.1 642.1,817.9 644.9,812.9 C647.7,807.9 650.2,803.2 652.4,799.8 C654.6,796.4 655.8,794.2 658.0,792.3 C660.2,790.4 662.6,789.9 665.4,788.6 C668.2,787.4 671.4,786.0 674.8,784.8 C678.2,783.5 682.3,782.2 686.0,781.1 C689.7,780.0 694.3,778.9 697.2,778.3 C700.1,777.7 700.9,777.7 703.4,777.4 C705.9,777.1 710.6,776.6 712.0,776.5 L732.0,776.5 L725.5,915.7 L93.7,915.7 L88.0,782.0 Z" fill="url(#tri)"/>
<path d="M108.0,782.0 C109.3,781.8 112.9,781.3 115.7,780.5 C118.5,779.7 121.6,778.2 124.7,777.4 C127.8,776.6 131.0,776.0 134.1,775.5 C137.2,775.0 140.6,774.5 143.4,774.6 C146.2,774.7 148.1,774.9 150.9,775.9 C153.7,776.9 157.1,779.1 160.2,780.7 C163.3,782.4 166.8,784.2 169.6,785.8 C172.4,787.4 174.9,788.4 177.1,790.4 C179.3,792.4 180.8,794.8 182.7,797.9 C184.6,801.0 186.4,805.0 188.3,809.1 C190.2,813.2 192.2,818.5 193.9,822.2 C195.6,826.0 197.2,829.3 198.6,831.6 C200.0,833.9 200.9,835.1 202.3,835.9 C203.7,836.7 205.6,837.0 207.0,836.3 C208.4,835.6 209.1,834.9 210.7,831.6 C212.3,828.3 214.5,821.9 216.4,816.6 C218.3,811.3 220.1,805.4 222.0,799.8 C223.9,794.2 225.9,787.0 227.6,783.0 C229.3,779.0 230.5,777.4 232.0,775.5 C233.5,773.6 234.5,772.5 236.6,771.5 C238.7,770.5 242.6,769.6 244.8,769.5 C247.0,769.4 248.1,769.5 249.8,770.7 C251.5,771.9 252.6,774.0 254.8,776.5 C257.0,779.0 260.4,783.3 263.1,785.6 C265.9,787.9 268.6,788.9 271.3,790.5 C274.0,792.1 277.2,793.3 279.2,795.2 C281.1,797.1 282.0,799.1 283.0,801.8 C284.0,804.5 284.4,807.8 285.0,811.2 C285.6,814.6 286.0,818.5 286.8,822.0 C287.6,825.5 288.5,829.3 289.8,832.2 C291.1,835.1 292.6,837.4 294.5,839.4 C296.4,841.4 299.0,843.3 301.2,844.4 C303.4,845.5 305.3,845.6 307.8,845.7 C310.3,845.8 313.4,845.7 316.1,845.2 C318.9,844.8 321.8,844.0 324.3,843.0 C326.8,842.0 328.8,841.1 331.0,839.4 C333.2,837.7 335.1,835.8 337.6,832.8 C340.1,829.8 343.1,825.1 345.9,821.2 C348.6,817.3 351.4,813.5 354.1,809.6 C356.9,805.7 359.6,801.9 362.4,798.0 C365.2,794.1 368.2,789.6 370.7,786.4 C373.2,783.2 375.1,780.7 377.3,779.0 C379.5,777.3 381.8,776.7 384.0,776.1 C386.2,775.5 388.7,775.3 390.6,775.6 C392.5,775.9 394.0,776.3 395.6,778.1 C397.2,779.9 398.6,784.2 400.5,786.4 C402.4,788.6 404.6,789.9 407.1,791.4 C409.6,792.9 413.2,794.1 415.4,795.5 C417.5,796.9 417.9,797.6 420.0,799.7 C422.1,801.8 425.5,804.9 428.3,807.9 C431.1,810.9 433.6,814.3 436.6,817.9 C439.6,821.5 443.2,825.6 446.5,829.5 C449.8,833.4 453.4,838.1 456.4,841.1 C459.4,844.1 462.2,846.3 464.7,847.7 C467.2,849.1 469.6,850.0 471.3,849.7 C473.0,849.4 473.0,848.8 474.7,846.0 C476.4,843.2 478.8,837.5 481.3,832.8 C483.8,828.1 486.9,823.1 489.6,817.9 C492.4,812.6 495.1,807.1 497.8,801.3 C500.6,795.5 503.8,787.6 506.1,783.1 C508.5,778.6 510.0,776.2 511.9,774.0 C513.8,771.8 515.4,770.7 517.7,769.8 C520.1,768.9 523.2,768.7 526.0,768.7 C528.8,768.7 531.8,768.9 534.3,769.8 C536.8,770.7 538.7,771.2 540.9,774.0 C543.1,776.8 545.3,781.9 547.5,786.4 C549.7,790.9 551.7,796.0 554.2,801.3 C556.7,806.5 559.6,812.6 562.4,817.9 C565.1,823.1 567.9,828.4 570.7,832.8 C573.5,837.2 576.2,841.2 579.0,844.4 C581.8,847.6 584.5,849.9 587.3,851.8 C590.1,853.7 592.6,854.6 595.6,855.6 C598.6,856.6 602.5,857.3 605.5,857.6 C608.5,857.9 611.6,857.7 613.8,857.3 C616.0,856.9 616.6,856.8 618.7,855.0 C620.8,853.2 623.4,850.7 626.2,846.5 C629.0,842.3 632.4,835.3 635.5,829.7 C638.6,824.1 642.1,817.9 644.9,812.9 C647.7,807.9 650.2,803.2 652.4,799.8 C654.6,796.4 655.8,794.2 658.0,792.3 C660.2,790.4 662.6,789.9 665.4,788.6 C668.2,787.4 671.4,786.0 674.8,784.8 C678.2,783.5 682.3,782.2 686.0,781.1 C689.7,780.0 694.3,778.9 697.2,778.3 C700.1,777.7 700.9,777.7 703.4,777.4 C705.9,777.1 710.6,776.6 712.0,776.5" fill="none" stroke="#000" stroke-width="3.2" stroke-linejoin="round"/>
</g>
<polygon points="113.7,755.1 705.5,755.1 705.5,895.7 113.7,895.7" fill="none" stroke="#000" stroke-width="4.0" stroke-linejoin="miter"/>
<line x1="178.9" y1="783.9" x2="202.3" y2="844.7" stroke="#fff" stroke-width="2.4" stroke-linecap="round"/>
<line x1="235.7" y1="766.2" x2="206.4" y2="844.7" stroke="#fff" stroke-width="2.4" stroke-linecap="round"/>
<line x1="254.8" y1="763.2" x2="303.6" y2="850.2" stroke="#fff" stroke-width="2.4" stroke-linecap="round"/>
<line x1="381.5" y1="772.8" x2="327.3" y2="851.0" stroke="#fff" stroke-width="2.4" stroke-linecap="round"/>
<line x1="397.2" y1="771.2" x2="471.0" y2="853.0" stroke="#fff" stroke-width="2.4" stroke-linecap="round"/>
<line x1="511.1" y1="770.3" x2="474.3" y2="851.8" stroke="#fff" stroke-width="2.4" stroke-linecap="round"/>
<line x1="541.4" y1="765.7" x2="584.0" y2="859.6" stroke="#fff" stroke-width="2.4" stroke-linecap="round"/>
<line x1="659.8" y1="785.8" x2="617.8" y2="862.4" stroke="#fff" stroke-width="2.4" stroke-linecap="round"/>
<g opacity="0.96"><line x1="187.6" y1="795.9" x2="196.9" y2="820.2" stroke="#fff" stroke-width="1.6"/><polygon points="196.9,820.2 197.8,811.3 194.1,812.7" fill="#fff"/></g>
<line x1="186.6" y1="799.1" x2="194.1" y2="818.5" stroke="#fff" stroke-width="0.8" opacity="0.6"/>
<g opacity="0.96"><line x1="189.9" y1="822.9" x2="180.5" y2="798.7" stroke="#fff" stroke-width="1.6"/><polygon points="180.5,798.7 179.7,807.6 183.4,806.1" fill="#fff"/></g>
<g opacity="0.96"><line x1="223.5" y1="788.0" x2="214.4" y2="812.4" stroke="#fff" stroke-width="1.6"/><polygon points="214.4,812.4 213.5,803.5 217.2,804.9" fill="#fff"/></g>
<line x1="224.5" y1="791.2" x2="217.3" y2="810.7" stroke="#fff" stroke-width="0.8" opacity="0.6"/>
<g opacity="0.96"><line x1="221.5" y1="815.0" x2="230.6" y2="790.7" stroke="#fff" stroke-width="1.6"/><polygon points="230.6,790.7 231.6,799.6 227.8,798.2" fill="#fff"/></g>
<g opacity="0.96"><line x1="271.8" y1="785.7" x2="285.5" y2="810.1" stroke="#fff" stroke-width="1.6"/><polygon points="285.5,810.1 285.0,801.2 281.5,803.1" fill="#fff"/></g>
<line x1="271.3" y1="789.1" x2="282.3" y2="808.7" stroke="#fff" stroke-width="0.8" opacity="0.6"/>
<g opacity="0.96"><line x1="278.8" y1="813.8" x2="265.1" y2="789.4" stroke="#fff" stroke-width="1.6"/><polygon points="265.1,789.4 265.6,798.3 269.0,796.4" fill="#fff"/></g>
<g opacity="0.96"><line x1="362.5" y1="793.5" x2="345.4" y2="818.2" stroke="#fff" stroke-width="1.6"/><polygon points="345.4,818.2 346.7,809.3 350.0,811.6" fill="#fff"/></g>
<line x1="362.5" y1="797.2" x2="348.9" y2="816.9" stroke="#fff" stroke-width="0.8" opacity="0.6"/>
<g opacity="0.96"><line x1="351.7" y1="822.5" x2="368.8" y2="797.8" stroke="#fff" stroke-width="1.6"/><polygon points="368.8,797.8 367.5,806.7 364.2,804.4" fill="#fff"/></g>
<g opacity="0.96"><line x1="423.2" y1="794.3" x2="443.3" y2="816.6" stroke="#fff" stroke-width="1.6"/><polygon points="443.3,816.6 440.9,808.0 437.9,810.7" fill="#fff"/></g>
<line x1="423.6" y1="798.0" x2="439.7" y2="815.8" stroke="#fff" stroke-width="0.8" opacity="0.6"/>
<g opacity="0.96"><line x1="437.6" y1="821.7" x2="417.5" y2="799.4" stroke="#fff" stroke-width="1.6"/><polygon points="417.5,799.4 419.9,808.0 422.9,805.4" fill="#fff"/></g>
<g opacity="0.96"><line x1="496.8" y1="792.7" x2="485.3" y2="818.2" stroke="#fff" stroke-width="1.6"/><polygon points="485.3,818.2 485.0,809.2 488.6,810.9" fill="#fff"/></g>
<line x1="497.6" y1="796.1" x2="488.4" y2="816.5" stroke="#fff" stroke-width="0.8" opacity="0.6"/>
<g opacity="0.96"><line x1="492.2" y1="821.3" x2="503.8" y2="795.8" stroke="#fff" stroke-width="1.6"/><polygon points="503.8,795.8 504.1,804.7 500.5,803.1" fill="#fff"/></g>
<g opacity="0.96"><line x1="556.1" y1="788.9" x2="567.7" y2="814.4" stroke="#fff" stroke-width="1.6"/><polygon points="567.7,814.4 568.0,805.5 564.4,807.2" fill="#fff"/></g>
<line x1="555.4" y1="792.4" x2="564.6" y2="812.8" stroke="#fff" stroke-width="0.8" opacity="0.6"/>
<g opacity="0.96"><line x1="560.8" y1="817.6" x2="549.2" y2="792.1" stroke="#fff" stroke-width="1.6"/><polygon points="549.2,792.1 548.9,801.0 552.5,799.4" fill="#fff"/></g>
<g opacity="0.96"><line x1="644.3" y1="806.2" x2="630.8" y2="830.7" stroke="#fff" stroke-width="1.6"/><polygon points="630.8,830.7 631.2,821.8 634.7,823.7" fill="#fff"/></g>
<line x1="644.8" y1="809.6" x2="634.0" y2="829.3" stroke="#fff" stroke-width="0.8" opacity="0.6"/>
<g opacity="0.96"><line x1="637.5" y1="834.4" x2="651.0" y2="809.8" stroke="#fff" stroke-width="1.6"/><polygon points="651.0,809.8 650.6,818.8 647.1,816.8" fill="#fff"/></g>
<text transform="translate(557.79,776.50) scale(1.0868,1)" font-family='"Liberation Sans", sans-serif' font-weight="bold" font-size="15.65" fill="#0a2a0a" >Sedimentry rocks</text>
<text transform="translate(319.38,871.20) scale(1.0897,1)" font-family='"Liberation Sans", sans-serif' font-weight="bold" font-size="17.25" fill="#fff" >Basement rocks</text>
<text transform="translate(585.19,878.60) scale(1.0615,1)" font-family='"Liberation Sans", sans-serif' font-weight="bold" font-size="12.75" fill="#fff" >Susc.= 0.003 cgs</text>
<text transform="translate(127.04,865.40) scale(0.9925,1)" font-family='"Liberation Sans", sans-serif' font-weight="bold" font-size="13.77" fill="#fff" >Possible Faults</text>
<line x1="136" y1="879.1" x2="223.6" y2="879.1" stroke="#fff" stroke-width="2.3"/>
<path d="M190.2,876 L174,870.6 L180,874.6 L149.8,874.4 L149.8,876.3 Z" fill="#fff"/>
<path d="M150.6,883 L165.5,888.9 L160.7,884.4 L191.2,884.6 L191.2,882.7 Z" fill="#fff"/>
<line x1="152" y1="877.4" x2="186" y2="877.4" stroke="#fff" stroke-width="0.7" opacity="0.7"/>
<line x1="154" y1="881.2" x2="190" y2="881.2" stroke="#fff" stroke-width="0.7" opacity="0.7"/>
<rect x="845.5" y="586" width="44.5" height="125.5" fill="#d2d2d2"/>
<rect x="845.5" y="720.5" width="44" height="179.5" fill="#d2d2d2"/>
<rect x="845.5" y="720.5" width="785.3" height="14.8" fill="#d2d2d2"/>
<rect x="1574.5" y="719" width="56.3" height="16.3" fill="#d9d9d9"/>
<text transform="translate(868.17,610.10) scale(1.2377,1)" font-family='"Liberation Sans", sans-serif' font-weight="bold" font-size="8.86" fill="#0c0c0c" >110-</text>
<text transform="translate(873.69,645.10) scale(1.2344,1)" font-family='"Liberation Sans", sans-serif' font-weight="bold" font-size="8.86" fill="#0c0c0c" >55-</text>
<text transform="translate(879.33,679.00) scale(1.2844,1)" font-family='"Liberation Sans", sans-serif' font-weight="bold" font-size="8.86" fill="#0c0c0c" >0-</text>
<text transform="translate(870.14,713.60) scale(1.2240,1)" font-family='"Liberation Sans", sans-serif' font-weight="bold" font-size="8.86" fill="#0c0c0c" >-55-</text>
<rect x="871" y="586.4" width="13" height="1.6" fill="#555"/>
<text transform="translate(853.00,648.05) rotate(-90) scale(1.0895,1)" font-family='"Liberation Sans", sans-serif' font-weight="bold" font-size="7.25" fill="#0c0c0c">nT</text>
<text transform="translate(865.00,654.25) rotate(-90) scale(1.2823,1)" font-family='"Liberation Sans", sans-serif' font-weight="bold" font-size="7.25" fill="#0c0c0c">nT/m</text>
<text transform="translate(891.04,708.70) scale(1.1042,1)" font-family='"Liberation Sans", sans-serif' font-weight="normal" font-size="6.38" fill="#444" >ERR=4.749</text>
<line x1="890" y1="643.2" x2="1616.6" y2="643.2" stroke="#8585e0" stroke-width="1.55"/>
<line x1="941" y1="675.5" x2="1592.8" y2="675.5" stroke="#55e6e0" stroke-width="1.5"/>
<line x1="941" y1="675.6" x2="1212.3" y2="675.6" stroke="#44bc86" stroke-width="2.6"/>
<line x1="1241.9" y1="675.6" x2="1249" y2="675.6" stroke="#44bc86" stroke-width="2.1"/>
<line x1="1278.1" y1="675.6" x2="1313.5" y2="675.6" stroke="#44bc86" stroke-width="2.1"/>
<line x1="1351" y1="675.6" x2="1444" y2="675.6" stroke="#44bc86" stroke-width="2.1"/>
<line x1="1488.2" y1="675.6" x2="1501.9" y2="675.6" stroke="#44bc86" stroke-width="2.1"/>
<line x1="1517" y1="675.6" x2="1522.8" y2="675.6" stroke="#44bc86" stroke-width="2.1"/>
<line x1="1531.5" y1="675.6" x2="1537.3" y2="675.6" stroke="#44bc86" stroke-width="2.1"/>
<line x1="1546.6" y1="675.6" x2="1566.8" y2="675.6" stroke="#44bc86" stroke-width="2.1"/>
<line x1="1575.5" y1="675.6" x2="1581.3" y2="675.6" stroke="#44bc86" stroke-width="2.1"/>
<path d="M941.0,646.0 C942.5,645.6 946.8,644.3 950.0,643.8 C953.2,643.3 955.8,643.1 960.0,642.8 C964.2,642.5 970.0,642.0 975.0,641.8 C980.0,641.5 985.0,641.2 990.0,641.3 C995.0,641.4 1000.8,641.9 1005.0,642.5 C1009.2,643.1 1011.7,644.3 1015.0,645.0 C1018.3,645.7 1021.7,646.2 1025.0,646.5 C1028.3,646.8 1030.8,646.9 1035.0,647.0 C1039.2,647.1 1045.8,647.0 1050.0,647.0 C1054.2,647.0 1056.3,647.5 1060.0,647.3 C1063.7,647.1 1068.3,646.5 1072.0,646.0 C1075.7,645.5 1079.0,644.5 1082.0,644.0 C1085.0,643.5 1086.2,643.3 1090.0,643.2 C1093.8,643.1 1101.3,643.0 1105.0,643.3 C1108.7,643.6 1108.7,644.4 1112.0,645.0 C1115.3,645.6 1118.7,646.5 1125.0,646.8 C1131.3,647.1 1141.7,646.9 1150.0,647.0 C1158.3,647.1 1168.3,647.5 1175.0,647.3 C1181.7,647.1 1185.8,646.6 1190.0,646.0 C1194.2,645.4 1196.7,644.0 1200.0,643.8 C1203.3,643.6 1206.7,644.5 1210.0,645.0 C1213.3,645.5 1216.7,646.4 1220.0,646.5 C1223.3,646.6 1225.8,645.5 1230.0,645.5 C1234.2,645.5 1240.8,646.5 1245.0,646.8 C1249.2,647.1 1250.8,647.5 1255.0,647.5 C1259.2,647.5 1264.2,647.3 1270.0,647.0 C1275.8,646.7 1284.2,646.1 1290.0,645.5 C1295.8,644.9 1297.5,643.5 1305.0,643.3 C1312.5,643.0 1328.3,644.1 1335.0,644.0 C1341.7,643.9 1341.3,643.2 1345.0,642.8 C1348.7,642.4 1352.8,641.8 1357.0,641.8 C1361.2,641.8 1366.2,642.5 1370.0,643.0 C1373.8,643.5 1375.8,643.9 1380.0,644.5 C1384.2,645.1 1389.2,646.0 1395.0,646.5 C1400.8,647.0 1407.5,647.8 1415.0,647.5 C1422.5,647.2 1434.2,645.8 1440.0,645.0 C1445.8,644.2 1445.8,643.7 1450.0,643.0 C1454.2,642.3 1460.7,641.6 1465.0,641.0 C1469.3,640.4 1472.8,639.9 1476.0,639.5 C1479.2,639.1 1481.3,638.4 1484.0,638.5 C1486.7,638.6 1489.3,639.2 1492.0,640.0 C1494.7,640.8 1497.0,642.1 1500.0,643.5 C1503.0,644.9 1506.7,647.2 1510.0,648.5 C1513.3,649.8 1517.2,651.2 1520.0,651.5 C1522.8,651.8 1523.7,651.3 1527.0,650.5 C1530.3,649.7 1536.2,647.5 1540.0,646.5 C1543.8,645.5 1547.2,644.4 1550.0,644.5 C1552.8,644.6 1554.7,646.2 1557.0,647.0 C1559.3,647.8 1561.5,649.5 1564.0,649.5 C1566.5,649.5 1569.3,647.6 1572.0,647.0 C1574.7,646.4 1577.8,645.8 1580.0,646.0 C1582.2,646.2 1583.0,648.2 1585.0,648.0 C1587.0,647.8 1590.8,645.1 1592.0,644.5" fill="none" stroke="#e0443e" stroke-width="1.1" stroke-linejoin="round"/>
<path d="M939.5,702.5 C942.9,702.2 952.4,701.6 960.0,701.0 C967.6,700.4 977.5,699.8 985.0,699.0 C992.5,698.2 1000.0,697.2 1005.0,696.5 C1010.0,695.8 1011.7,695.3 1015.0,695.0 C1018.3,694.7 1020.8,694.8 1025.0,694.8 C1029.2,694.8 1035.8,695.3 1040.0,695.3 C1044.2,695.3 1045.8,695.1 1050.0,694.8 C1054.2,694.5 1059.2,694.1 1065.0,693.5 C1070.8,692.9 1079.2,691.8 1085.0,691.0 C1090.8,690.2 1095.8,689.4 1100.0,688.5 C1104.2,687.6 1106.7,686.3 1110.0,685.5 C1113.3,684.7 1115.8,684.1 1120.0,683.5 C1124.2,682.9 1127.5,682.3 1135.0,682.0 C1142.5,681.7 1156.7,681.9 1165.0,681.5 C1173.3,681.1 1178.3,680.5 1185.0,679.5 C1191.7,678.5 1198.3,676.9 1205.0,675.5 C1211.7,674.1 1220.0,672.0 1225.0,671.0 C1230.0,670.0 1230.8,669.7 1235.0,669.5 C1239.2,669.3 1245.8,669.6 1250.0,669.8 C1254.2,670.0 1255.8,670.6 1260.0,670.8 C1264.2,671.0 1270.8,671.0 1275.0,671.0 C1279.2,671.0 1280.8,671.2 1285.0,670.8 C1289.2,670.4 1295.0,669.6 1300.0,668.5 C1305.0,667.4 1310.0,665.4 1315.0,664.0 C1320.0,662.6 1325.8,660.9 1330.0,660.0 C1334.2,659.1 1335.8,658.7 1340.0,658.5 C1344.2,658.3 1349.2,659.2 1355.0,659.0 C1360.8,658.8 1368.3,657.7 1375.0,657.0 C1381.7,656.3 1388.3,655.4 1395.0,655.0 C1401.7,654.6 1409.5,654.7 1415.0,654.5 C1420.5,654.3 1423.8,654.6 1428.0,654.0 C1432.2,653.4 1435.5,652.1 1440.0,651.0 C1444.5,649.9 1450.0,648.4 1455.0,647.5 C1460.0,646.6 1465.0,646.2 1470.0,645.5 C1475.0,644.8 1480.0,643.3 1485.0,643.0 C1490.0,642.7 1495.5,642.7 1500.0,643.5 C1504.5,644.3 1508.7,646.9 1512.0,648.0 C1515.3,649.1 1517.0,650.2 1520.0,650.0 C1523.0,649.8 1525.8,648.1 1530.0,647.0 C1534.2,645.9 1541.2,644.2 1545.0,643.5 C1548.8,642.8 1550.0,642.4 1553.0,642.5 C1556.0,642.6 1559.3,644.0 1563.0,644.0 C1566.7,644.0 1571.3,642.6 1575.0,642.5 C1578.7,642.4 1582.2,643.7 1585.0,643.5 C1587.8,643.3 1590.8,641.8 1592.0,641.5" fill="none" stroke="#1c1c1c" stroke-width="0.95" stroke-linejoin="round"/>
<path d="M938.0,698.2h3.1v3.1h-3.1zM945.2,698.5h3.1v3.1h-3.1zM952.7,698.2h3.1v3.1h-3.1zM960.4,697.9h3.1v3.1h-3.1zM968.0,697.6h3.1v3.1h-3.1zM975.5,697.1h3.1v3.1h-3.1zM982.7,696.5h3.1v3.1h-3.1zM989.9,695.6h3.1v3.1h-3.1zM997.2,694.8h3.1v3.1h-3.1zM1004.4,693.9h3.1v3.1h-3.1zM1011.6,692.4h3.1v3.1h-3.1zM1018.1,690.7h3.1v3.1h-3.1zM1025.7,689.6h3.1v3.1h-3.1zM1032.9,689.0h3.1v3.1h-3.1zM1040.4,689.0h3.1v3.1h-3.1zM1047.8,689.2h3.1v3.1h-3.1zM1055.0,689.0h3.1v3.1h-3.1zM1062.2,688.4h3.1v3.1h-3.1zM1069.5,687.4h3.1v3.1h-3.1zM1076.7,688.1h3.1v3.1h-3.1zM1084.2,688.4h3.1v3.1h-3.1zM1091.0,687.8h3.1v3.1h-3.1zM1098.2,685.5h3.1v3.1h-3.1zM1105.5,683.1h3.1v3.1h-3.1zM1113.0,680.6h3.1v3.1h-3.1zM1119.9,678.2h3.1v3.1h-3.1zM1127.2,676.6h3.1v3.1h-3.1zM1134.4,675.9h3.1v3.1h-3.1zM1141.5,675.4h3.1v3.1h-3.1zM1148.8,675.4h3.1v3.1h-3.1zM1156.0,675.4h3.1v3.1h-3.1zM1163.2,675.1h3.1v3.1h-3.1zM1170.4,674.4h3.1v3.1h-3.1zM1177.5,673.7h3.1v3.1h-3.1zM1185.0,673.0h3.1v3.1h-3.1zM1192.8,673.0h3.1v3.1h-3.1zM1200.0,671.5h3.1v3.1h-3.1zM1207.2,669.1h3.1v3.1h-3.1zM1214.4,666.5h3.1v3.1h-3.1zM1221.5,665.8h3.1v3.1h-3.1zM1228.8,665.2h3.1v3.1h-3.1zM1236.0,665.2h3.1v3.1h-3.1zM1243.2,664.8h3.1v3.1h-3.1zM1250.4,664.1h3.1v3.1h-3.1zM1257.4,664.8h3.1v3.1h-3.1zM1264.7,665.2h3.1v3.1h-3.1zM1271.9,665.5h3.1v3.1h-3.1zM1279.0,666.2h3.1v3.1h-3.1zM1286.2,665.5h3.1v3.1h-3.1zM1293.5,664.8h3.1v3.1h-3.1zM1300.7,664.0h3.1v3.1h-3.1zM1307.9,661.9h3.1v3.1h-3.1zM1315.0,660.0h3.1v3.1h-3.1zM1322.4,657.8h3.1v3.1h-3.1zM1330.0,656.8h3.1v3.1h-3.1zM1337.2,656.4h3.1v3.1h-3.1zM1344.4,657.1h3.1v3.1h-3.1zM1351.5,658.1h3.1v3.1h-3.1zM1358.8,657.8h3.1v3.1h-3.1zM1366.5,657.1h3.1v3.1h-3.1zM1373.2,655.4h3.1v3.1h-3.1zM1380.5,653.5h3.1v3.1h-3.1zM1387.7,651.8h3.1v3.1h-3.1zM1394.9,650.6h3.1v3.1h-3.1zM1402.8,649.5h3.1v3.1h-3.1zM1409.2,649.2h3.1v3.1h-3.1zM1416.5,648.7h3.1v3.1h-3.1zM1423.8,648.0h3.1v3.1h-3.1zM1431.4,647.0h3.1v3.1h-3.1zM1438.5,646.0h3.1v3.1h-3.1zM1445.8,645.6h3.1v3.1h-3.1zM1452.9,645.2h3.1v3.1h-3.1zM1460.0,645.1h3.1v3.1h-3.1zM1467.2,644.8h3.1v3.1h-3.1zM1474.5,644.1h3.1v3.1h-3.1zM1482.0,643.7h3.1v3.1h-3.1zM1489.2,643.4h3.1v3.1h-3.1zM1496.8,642.7h3.1v3.1h-3.1zM1503.5,642.0h3.1v3.1h-3.1zM1510.8,641.0h3.1v3.1h-3.1zM1518.0,638.8h3.1v3.1h-3.1zM1525.7,636.6h3.1v3.1h-3.1zM1532.2,636.6h3.1v3.1h-3.1zM1539.7,636.6h3.1v3.1h-3.1zM1546.9,636.6h3.1v3.1h-3.1zM1554.5,636.2h3.1v3.1h-3.1zM1561.7,636.2h3.1v3.1h-3.1zM1568.9,636.2h3.1v3.1h-3.1zM1576.0,636.2h3.1v3.1h-3.1zM1583.4,636.2h3.1v3.1h-3.1zM1590.5,635.9h3.1v3.1h-3.1z" fill="#000"/>
<path d="M1100,681.7 L1100,694 M1098.5,685 L1100,687.2 L1101.5,685" stroke="#e02020" stroke-width="1.2" fill="none"/>
<line x1="1110.9" y1="639.1" x2="1110.9" y2="647.8" stroke="#555" stroke-width="1.3"/>
<line x1="1110.9" y1="672.3" x2="1110.9" y2="688.9" stroke="#666" stroke-width="1.4"/>
<line x1="1111" y1="735" x2="1111" y2="748" stroke="#777" stroke-width="0.9"/>
<text transform="translate(938.34,729.50) scale(1.2746,1)" font-family='"Liberation Sans", sans-serif' font-weight="bold" font-size="8.00" fill="#0c0c0c" >0</text>
<text transform="translate(1138.79,729.50) scale(1.1471,1)" font-family='"Liberation Sans", sans-serif' font-weight="bold" font-size="8.00" fill="#0c0c0c" >625</text>
<text transform="translate(1341.46,729.50) scale(1.1489,1)" font-family='"Liberation Sans", sans-serif' font-weight="bold" font-size="8.00" fill="#0c0c0c" >1250</text>
<text transform="translate(1546.66,729.50) scale(1.1435,1)" font-family='"Liberation Sans", sans-serif' font-weight="bold" font-size="8.00" fill="#0c0c0c" >1875</text>
<line x1="941.2" y1="731.8" x2="941.2" y2="734.8" stroke="#333" stroke-width="0.9"/>
<line x1="1146.6" y1="731.8" x2="1146.6" y2="734.8" stroke="#333" stroke-width="0.9"/>
<line x1="1351.9" y1="731.8" x2="1351.9" y2="734.8" stroke="#333" stroke-width="0.9"/>
<line x1="1557.2" y1="731.8" x2="1557.2" y2="734.8" stroke="#333" stroke-width="0.9"/>
<text transform="translate(1578.35,734.40) scale(0.9838,1)" font-family='"Liberation Sans", sans-serif' font-weight="bold" font-size="15.23" fill="#000" >meters</text>
<text transform="translate(879.44,753.60) scale(1.2295,1)" font-family='"Liberation Sans", sans-serif' font-weight="bold" font-size="8.57" fill="#0c0c0c" >0-</text>
<text transform="translate(868.89,794.70) scale(1.1615,1)" font-family='"Liberation Sans", sans-serif' font-weight="bold" font-size="8.57" fill="#0c0c0c" >251-</text>
<text transform="translate(868.89,836.00) scale(1.1615,1)" font-family='"Liberation Sans", sans-serif' font-weight="bold" font-size="8.57" fill="#0c0c0c" >502-</text>
<text transform="translate(868.78,876.80) scale(1.1676,1)" font-family='"Liberation Sans", sans-serif' font-weight="bold" font-size="8.57" fill="#0c0c0c" >753-</text>
<text transform="translate(854.00,839.19) rotate(-90) scale(1.3024,1)" font-family='"Liberation Sans", sans-serif' font-weight="bold" font-size="7.54" fill="#0c0c0c">Depth</text>
<text transform="translate(865.00,842.26) rotate(-90) scale(1.2432,1)" font-family='"Liberation Sans", sans-serif' font-weight="bold" font-size="7.54" fill="#0c0c0c">meters</text>
<line x1="889.4" y1="750.2" x2="924" y2="750.2" stroke="#e82020" stroke-width="1.4"/>
<line x1="938.80" y1="747.3" x2="1604" y2="747.3" stroke="#4a4ac0" stroke-width="2.4" stroke-dasharray="3.0 4.250"/>
<g clip-path="url(#clip6)">
<polygon points="924.6,750.3 1603.8,750.3 1603.8,895.3 924.6,895.3" fill="#00ff00"/>
<path d="M918.0,803.5 C919.4,803.6 923.1,803.8 926.6,804.0 C930.1,804.2 934.9,804.6 938.9,805.0 C942.9,805.4 946.8,806.0 950.7,806.4 C954.7,806.8 958.3,807.6 962.6,807.5 C966.9,807.4 971.8,807.2 976.4,806.0 C981.0,804.8 985.7,802.0 990.3,800.0 C994.9,798.0 999.8,795.9 1004.1,794.1 C1008.4,792.3 1013.4,789.7 1016.0,789.2 C1018.6,788.7 1018.0,789.3 1020.0,791.1 C1022.0,792.9 1025.0,796.5 1027.9,800.0 C1030.9,803.5 1034.5,808.5 1037.7,811.9 C1040.9,815.3 1044.1,818.1 1047.1,820.5 C1050.1,822.9 1053.0,824.8 1055.9,826.3 C1058.8,827.8 1061.5,828.6 1064.7,829.3 C1067.9,830.0 1071.5,830.5 1075.3,830.6 C1079.1,830.7 1084.1,830.2 1087.6,829.7 C1091.1,829.2 1094.1,828.7 1096.4,827.6 C1098.8,826.5 1099.6,826.0 1101.7,823.2 C1103.8,820.4 1106.5,815.2 1108.8,810.8 C1111.1,806.4 1113.4,801.4 1115.8,796.7 C1118.2,792.0 1121.0,785.8 1122.9,782.6 C1124.8,779.4 1125.5,778.3 1127.3,777.3 C1129.1,776.3 1131.3,775.7 1133.5,776.4 C1135.7,777.1 1137.9,779.2 1140.5,781.7 C1143.1,784.2 1146.1,787.9 1149.3,791.4 C1152.5,794.9 1156.4,799.4 1159.9,802.9 C1163.4,806.4 1167.3,810.3 1170.5,812.6 C1173.7,814.9 1177.2,816.2 1179.3,816.5 C1181.3,816.8 1181.0,816.2 1182.8,814.4 C1184.6,812.6 1187.0,808.7 1189.9,805.5 C1192.9,802.3 1197.0,798.4 1200.5,795.0 C1204.0,791.6 1207.8,788.2 1211.0,785.3 C1214.2,782.3 1217.5,779.0 1219.9,777.3 C1222.3,775.6 1222.9,775.2 1225.2,775.2 C1227.5,775.2 1231.5,776.8 1234.0,777.3 C1236.5,777.8 1237.2,777.5 1240.0,778.2 C1242.8,778.9 1246.8,780.2 1250.6,781.7 C1254.4,783.2 1259.1,785.6 1262.9,787.0 C1266.7,788.4 1270.8,789.4 1273.5,790.0 C1276.2,790.6 1276.8,791.1 1278.8,790.5 C1280.8,789.9 1282.6,787.6 1285.8,786.1 C1289.0,784.6 1294.1,783.0 1298.2,781.7 C1302.3,780.4 1306.4,779.7 1310.5,778.2 C1314.6,776.7 1319.1,774.2 1322.9,772.9 C1326.7,771.6 1329.7,770.4 1333.5,770.3 C1337.3,770.1 1341.4,771.6 1345.8,772.0 C1350.2,772.4 1354.0,773.0 1359.9,772.9 C1365.8,772.8 1374.6,772.0 1381.1,771.5 C1387.6,771.0 1392.8,770.2 1398.7,769.7 C1404.6,769.2 1410.4,768.8 1416.3,768.2 C1422.2,767.7 1428.1,767.4 1434.0,766.4 C1439.9,765.4 1446.6,763.4 1451.9,762.5 C1457.2,761.6 1462.1,760.9 1465.7,760.9 C1469.3,760.9 1471.0,762.5 1473.6,762.5 C1476.2,762.5 1477.2,761.1 1481.5,760.9 C1485.8,760.7 1494.7,761.5 1499.3,761.5 C1503.9,761.5 1506.2,760.8 1509.2,760.9 C1512.2,761.0 1514.1,762.2 1517.1,762.1 C1520.1,762.0 1522.0,760.6 1527.0,760.1 C1532.0,759.6 1540.2,759.3 1546.8,758.9 C1553.4,758.5 1559.3,758.0 1566.6,757.5 C1573.8,757.0 1584.4,756.4 1590.3,756.1 C1596.2,755.8 1598.2,755.7 1601.8,755.5 C1605.4,755.3 1610.3,755.1 1612.0,755.0 L1632.0,755.0 L1623.8,915.3 L904.6,915.3 L898.0,803.5 Z" fill="url(#tri)"/>
<path d="M918.0,803.5 C919.4,803.6 923.1,803.8 926.6,804.0 C930.1,804.2 934.9,804.6 938.9,805.0 C942.9,805.4 946.8,806.0 950.7,806.4 C954.7,806.8 958.3,807.6 962.6,807.5 C966.9,807.4 971.8,807.2 976.4,806.0 C981.0,804.8 985.7,802.0 990.3,800.0 C994.9,798.0 999.8,795.9 1004.1,794.1 C1008.4,792.3 1013.4,789.7 1016.0,789.2 C1018.6,788.7 1018.0,789.3 1020.0,791.1 C1022.0,792.9 1025.0,796.5 1027.9,800.0 C1030.9,803.5 1034.5,808.5 1037.7,811.9 C1040.9,815.3 1044.1,818.1 1047.1,820.5 C1050.1,822.9 1053.0,824.8 1055.9,826.3 C1058.8,827.8 1061.5,828.6 1064.7,829.3 C1067.9,830.0 1071.5,830.5 1075.3,830.6 C1079.1,830.7 1084.1,830.2 1087.6,829.7 C1091.1,829.2 1094.1,828.7 1096.4,827.6 C1098.8,826.5 1099.6,826.0 1101.7,823.2 C1103.8,820.4 1106.5,815.2 1108.8,810.8 C1111.1,806.4 1113.4,801.4 1115.8,796.7 C1118.2,792.0 1121.0,785.8 1122.9,782.6 C1124.8,779.4 1125.5,778.3 1127.3,777.3 C1129.1,776.3 1131.3,775.7 1133.5,776.4 C1135.7,777.1 1137.9,779.2 1140.5,781.7 C1143.1,784.2 1146.1,787.9 1149.3,791.4 C1152.5,794.9 1156.4,799.4 1159.9,802.9 C1163.4,806.4 1167.3,810.3 1170.5,812.6 C1173.7,814.9 1177.2,816.2 1179.3,816.5 C1181.3,816.8 1181.0,816.2 1182.8,814.4 C1184.6,812.6 1187.0,808.7 1189.9,805.5 C1192.9,802.3 1197.0,798.4 1200.5,795.0 C1204.0,791.6 1207.8,788.2 1211.0,785.3 C1214.2,782.3 1217.5,779.0 1219.9,777.3 C1222.3,775.6 1222.9,775.2 1225.2,775.2 C1227.5,775.2 1231.5,776.8 1234.0,777.3 C1236.5,777.8 1237.2,777.5 1240.0,778.2 C1242.8,778.9 1246.8,780.2 1250.6,781.7 C1254.4,783.2 1259.1,785.6 1262.9,787.0 C1266.7,788.4 1270.8,789.4 1273.5,790.0 C1276.2,790.6 1276.8,791.1 1278.8,790.5 C1280.8,789.9 1282.6,787.6 1285.8,786.1 C1289.0,784.6 1294.1,783.0 1298.2,781.7 C1302.3,780.4 1306.4,779.7 1310.5,778.2 C1314.6,776.7 1319.1,774.2 1322.9,772.9 C1326.7,771.6 1329.7,770.4 1333.5,770.3 C1337.3,770.1 1341.4,771.6 1345.8,772.0 C1350.2,772.4 1354.0,773.0 1359.9,772.9 C1365.8,772.8 1374.6,772.0 1381.1,771.5 C1387.6,771.0 1392.8,770.2 1398.7,769.7 C1404.6,769.2 1410.4,768.8 1416.3,768.2 C1422.2,767.7 1428.1,767.4 1434.0,766.4 C1439.9,765.4 1446.6,763.4 1451.9,762.5 C1457.2,761.6 1462.1,760.9 1465.7,760.9 C1469.3,760.9 1471.0,762.5 1473.6,762.5 C1476.2,762.5 1477.2,761.1 1481.5,760.9 C1485.8,760.7 1494.7,761.5 1499.3,761.5 C1503.9,761.5 1506.2,760.8 1509.2,760.9 C1512.2,761.0 1514.1,762.2 1517.1,762.1 C1520.1,762.0 1522.0,760.6 1527.0,760.1 C1532.0,759.6 1540.2,759.3 1546.8,758.9 C1553.4,758.5 1559.3,758.0 1566.6,757.5 C1573.8,757.0 1584.4,756.4 1590.3,756.1 C1596.2,755.8 1598.2,755.7 1601.8,755.5 C1605.4,755.3 1610.3,755.1 1612.0,755.0" fill="none" stroke="#000" stroke-width="2.6" stroke-linejoin="round"/>
</g>
<polygon points="924.6,750.3 1603.8,750.3 1603.8,895.3 924.6,895.3" fill="none" stroke="#000" stroke-width="4.0" stroke-linejoin="miter"/>
<line x1="1017.0" y1="786.2" x2="1066.1" y2="837.6" stroke="#fff" stroke-width="1.8" stroke-linecap="round"/>
<line x1="1126.4" y1="772.0" x2="1095.5" y2="842.2" stroke="#fff" stroke-width="1.8" stroke-linecap="round"/>
<line x1="1133.5" y1="772.9" x2="1174.9" y2="817.5" stroke="#fff" stroke-width="1.8" stroke-linecap="round"/>
<line x1="1222.5" y1="774.7" x2="1180.2" y2="819.3" stroke="#fff" stroke-width="1.8" stroke-linecap="round"/>
<line x1="1226.9" y1="774.7" x2="1277.9" y2="793.2" stroke="#fff" stroke-width="1.8" stroke-linecap="round"/>
<line x1="1334.3" y1="768.2" x2="1282.3" y2="791.8" stroke="#fff" stroke-width="1.8" stroke-linecap="round"/>
<g opacity="0.96"><line x1="1036.9" y1="803.2" x2="1050.1" y2="816.9" stroke="#fff" stroke-width="1.2"/><polygon points="1050.1,816.9 1048.4,810.9 1046.3,812.9" fill="#fff"/></g>
<line x1="1037.2" y1="805.6" x2="1047.7" y2="816.6" stroke="#fff" stroke-width="0.8" opacity="0.6"/>
<g opacity="0.96"><line x1="1046.2" y1="820.6" x2="1033.0" y2="806.9" stroke="#fff" stroke-width="1.2"/><polygon points="1033.0,806.9 1034.7,812.9 1036.8,810.9" fill="#fff"/></g>
<g opacity="0.96"><line x1="1112.3" y1="797.3" x2="1104.7" y2="814.7" stroke="#fff" stroke-width="1.2"/><polygon points="1104.7,814.7 1104.1,808.5 1106.9,809.7" fill="#fff"/></g>
<line x1="1112.9" y1="799.7" x2="1106.8" y2="813.6" stroke="#fff" stroke-width="0.8" opacity="0.6"/>
<g opacity="0.96"><line x1="1109.6" y1="816.9" x2="1117.2" y2="799.5" stroke="#fff" stroke-width="1.2"/><polygon points="1117.2,799.5 1117.8,805.7 1115.0,804.5" fill="#fff"/></g>
<g opacity="0.96"><line x1="1149.7" y1="786.4" x2="1162.6" y2="800.3" stroke="#fff" stroke-width="1.2"/><polygon points="1162.6,800.3 1161.1,794.3 1158.9,796.3" fill="#fff"/></g>
<line x1="1149.9" y1="788.8" x2="1160.3" y2="799.9" stroke="#fff" stroke-width="0.8" opacity="0.6"/>
<g opacity="0.96"><line x1="1158.7" y1="804.0" x2="1145.8" y2="790.1" stroke="#fff" stroke-width="1.2"/><polygon points="1145.8,790.1 1147.3,796.1 1149.5,794.1" fill="#fff"/></g>
<g opacity="0.96"><line x1="1205.9" y1="788.2" x2="1192.9" y2="802.0" stroke="#fff" stroke-width="1.2"/><polygon points="1192.9,802.0 1194.5,796.0 1196.6,798.0" fill="#fff"/></g>
<line x1="1205.7" y1="790.6" x2="1195.2" y2="801.7" stroke="#fff" stroke-width="0.8" opacity="0.6"/>
<g opacity="0.96"><line x1="1196.8" y1="805.8" x2="1209.8" y2="792.0" stroke="#fff" stroke-width="1.2"/><polygon points="1209.8,792.0 1208.2,798.0 1206.1,796.0" fill="#fff"/></g>
<g opacity="0.96"><line x1="1249.5" y1="780.0" x2="1267.4" y2="786.5" stroke="#fff" stroke-width="1.2"/><polygon points="1267.4,786.5 1263.2,781.8 1262.2,784.6" fill="#fff"/></g>
<line x1="1250.8" y1="782.1" x2="1265.1" y2="787.2" stroke="#fff" stroke-width="0.8" opacity="0.6"/>
<g opacity="0.96"><line x1="1265.5" y1="791.6" x2="1247.6" y2="785.1" stroke="#fff" stroke-width="1.2"/><polygon points="1247.6,785.1 1251.8,789.8 1252.8,787.0" fill="#fff"/></g>
<g opacity="0.96"><line x1="1310.6" y1="776.0" x2="1293.3" y2="783.8" stroke="#fff" stroke-width="1.2"/><polygon points="1293.3,783.8 1297.1,778.8 1298.3,781.6" fill="#fff"/></g>
<line x1="1309.5" y1="778.1" x2="1295.7" y2="784.4" stroke="#fff" stroke-width="0.8" opacity="0.6"/>
<g opacity="0.96"><line x1="1295.6" y1="788.7" x2="1312.9" y2="780.9" stroke="#fff" stroke-width="1.2"/><polygon points="1312.9,780.9 1309.1,785.9 1307.9,783.2" fill="#fff"/></g>
<text transform="translate(934.46,774.30) scale(1.0572,1)" font-family='"Liberation Sans", sans-serif' font-weight="bold" font-size="17.10" fill="#0a2a0a" >Sedimentry rocks</text>
<text transform="translate(1412.16,829.20) scale(1.0940,1)" font-family='"Liberation Sans", sans-serif' font-weight="bold" font-size="21.45" fill="#fff" >Basement rocks</text>
<text transform="translate(1426.06,849.50) scale(1.1010,1)" font-family='"Liberation Sans", sans-serif' font-weight="bold" font-size="16.38" fill="#fff" >Susc.= 0.003 cgs</text>
<text transform="translate(939.23,862.90) scale(1.0240,1)" font-family='"Liberation Sans", sans-serif' font-weight="bold" font-size="17.68" fill="#fff" >Possible Faults</text>
<line x1="945.7" y1="881" x2="1068.6" y2="879.9" stroke="#fff" stroke-width="2.5"/>
<path d="M981.4,876.7 L1000.8,869.2 L995.5,874.7 L1031,874.5 L1031,876.6 Z" fill="#fff"/>
<path d="M1029,885.3 L1011,892.6 L1016,887.2 L980,887.4 L980,885.3 Z" fill="#fff"/>
<line x1="985" y1="883.2" x2="1025" y2="882.9" stroke="#fff" stroke-width="0.8" opacity="0.8"/>
</g>
<use href="#fig" filter="url(#blurFig)" opacity="0.6"/>
<g>
<text transform="translate(2.20,31.25) scale(1.0216,1)" font-family='"Liberation Serif", serif' font-weight="bold" font-size="37.85" fill="#0000ff" >(A)</text>
<text transform="translate(7.13,74.60) scale(1.0147,1)" font-family='"Liberation Sans", sans-serif' font-weight="bold" font-size="31.74" fill="#000" >SE</text>
<text transform="translate(361.06,47.90) scale(0.8019,1)" font-family='"Liberation Sans", sans-serif' font-weight="bold" font-size="43.48" fill="#000" >P1</text>
<text transform="translate(701.29,76.50) scale(0.9779,1)" font-family='"Liberation Sans", sans-serif' font-weight="bold" font-size="32.32" fill="#000" >NW</text>
<text transform="translate(830.04,35.60) scale(1.0541,1)" font-family='"Liberation Serif", serif' font-weight="bold" font-size="36.92" fill="#0000ff" >(B)</text>
<text transform="translate(826.53,79.00) scale(0.9947,1)" font-family='"Liberation Sans", sans-serif' font-weight="bold" font-size="32.61" fill="#000" >SW</text>
<text transform="translate(1233.55,61.25) scale(0.9167,1)" font-family='"Liberation Sans", sans-serif' font-weight="bold" font-size="42.03" fill="#000" >P2</text>
<text transform="translate(1626.86,85.00) scale(0.9624,1)" font-family='"Liberation Sans", sans-serif' font-weight="bold" font-size="31.74" fill="#000" >NE</text>
<text transform="translate(14.07,542.60) scale(1.0085,1)" font-family='"Liberation Serif", serif' font-weight="bold" font-size="37.85" fill="#0000ff" >(C)</text>
<text transform="translate(19.40,584.00) scale(0.9562,1)" font-family='"Liberation Sans", sans-serif' font-weight="bold" font-size="32.03" fill="#000" >WSW</text>
<text transform="translate(363.20,530.60) scale(0.9241,1)" font-family='"Liberation Sans", sans-serif' font-weight="bold" font-size="37.10" fill="#000" >P3</text>
<text transform="translate(695.58,593.75) scale(1.0096,1)" font-family='"Liberation Sans", sans-serif' font-weight="bold" font-size="27.17" fill="#000" >ENE</text>
<text transform="translate(848.44,531.50) scale(1.0465,1)" font-family='"Liberation Serif", serif' font-weight="bold" font-size="37.38" fill="#0000ff" >(D)</text>
<text transform="translate(843.03,579.75) scale(1.0042,1)" font-family='"Liberation Sans", sans-serif' font-weight="bold" font-size="32.25" fill="#000" >SSE</text>
<text transform="translate(1237.49,527.25) scale(0.9201,1)" font-family='"Liberation Sans", sans-serif' font-weight="bold" font-size="38.99" fill="#000" >P4</text>
<text transform="translate(1568.72,587.50) scale(0.9815,1)" font-family='"Liberation Sans", sans-serif' font-weight="bold" font-size="33.19" fill="#000" >NNW</text>
<line x1="800.24" y1="-14.48" x2="797.36" y2="950" stroke="#000" stroke-width="4.3" stroke-dasharray="12.75 4.297"/>
<line x1="800.2" y1="0" x2="800.19" y2="3" stroke="#000" stroke-width="4.3"/>
<line x1="-15.29" y1="465.17" x2="1700" y2="457.81" stroke="#000" stroke-width="4.2" stroke-dasharray="12.75 4.29"/>
</g>
</svg>
</body></html>
